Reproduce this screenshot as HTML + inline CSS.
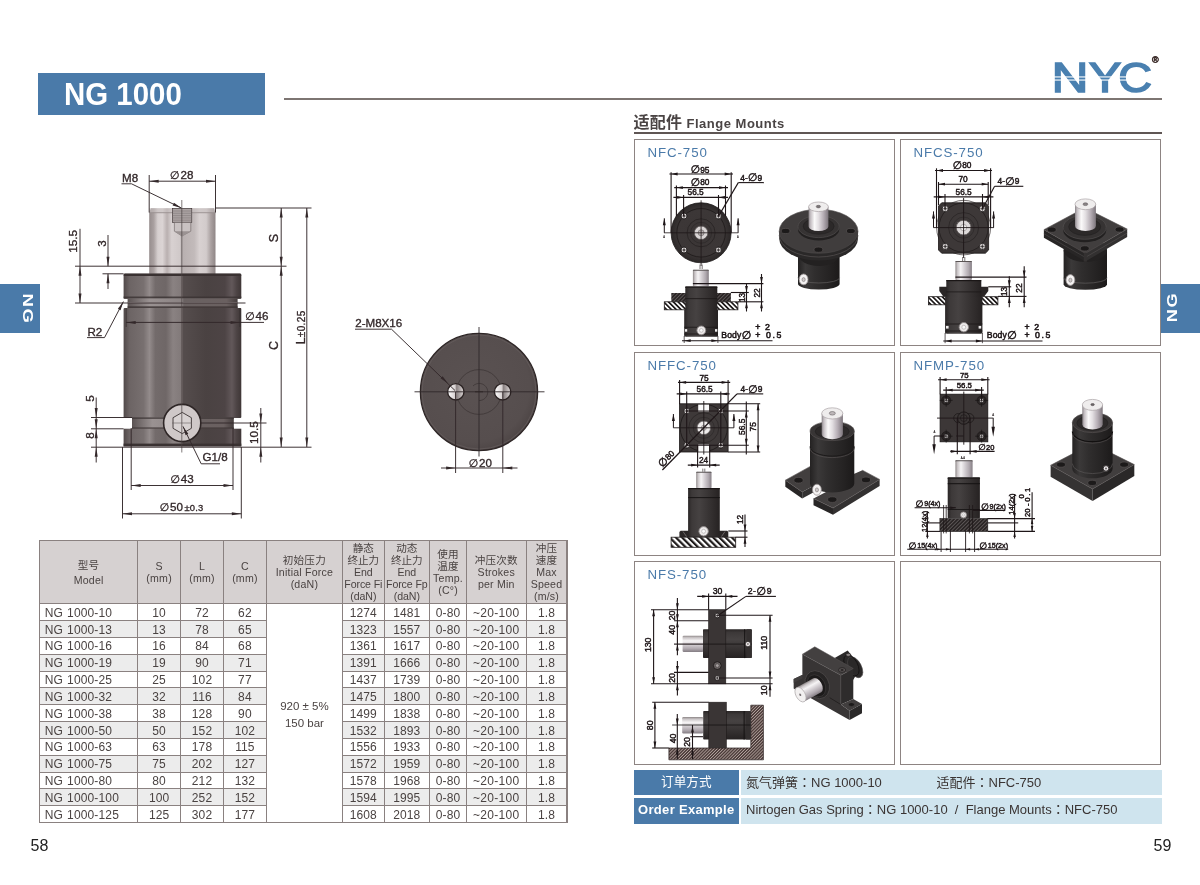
<!DOCTYPE html>
<html lang="zh-CN"><head><meta charset="utf-8"><title>NG 1000</title>
<style>
html,body{margin:0;padding:0;background:#fff;}
body{width:1200px;height:885px;position:relative;overflow:hidden;font-family:"Liberation Sans","Noto Sans CJK SC",sans-serif;}
#page{position:absolute;left:0;top:0;width:1200px;height:885px;overflow:hidden;will-change:transform;background:#fff;}
#art{position:absolute;left:0;top:0;width:1200px;height:885px;font-family:"Liberation Sans","Noto Sans CJK SC",sans-serif;}

.hbar{position:absolute;left:38px;top:73px;width:226.5px;height:41.5px;background:#4a7aa9;}
.hbar span{position:absolute;left:26px;top:1px;font-weight:bold;font-size:32px;line-height:40px;color:#fff;white-space:nowrap;transform-origin:0 50%;transform:scaleX(0.92);}
.hline{position:absolute;left:284px;top:98.3px;width:878px;height:2.2px;background:#7d7572;}
.tab{position:absolute;top:284px;height:48.7px;background:#4a7aa9;color:#fff;font-weight:bold;font-size:15px;}
.tabl{left:0;width:39.5px;}
.tabr{left:1161.3px;width:38.7px;}
.tab span{position:absolute;white-space:nowrap;letter-spacing:1.2px;line-height:1;font-size:14.6px;}
.tabl span{left:28.1px;top:25px;transform:translate(-50%,-50%) rotate(90deg) scaleX(1.27);}
.tabr span{left:11.2px;top:23.3px;transform:translate(-50%,-50%) rotate(-90deg) scaleX(1.25);}
.heading{position:absolute;left:633.5px;top:112.7px;white-space:nowrap;color:#4a4444;font-weight:bold;line-height:20px;}
.heading .cn{font-size:16px;letter-spacing:0.2px;}
.heading .en{font-size:13px;letter-spacing:0.5px;}
.hline2{position:absolute;left:633.5px;top:132px;width:528.5px;height:1.8px;background:#5f5654;}
.panel{position:absolute;box-sizing:border-box;border:1px solid #8d8482;background:#fff;}
.plabel{position:absolute;left:13px;top:5px;font-size:13.3px;line-height:16px;letter-spacing:0.9px;color:#4a7aa9;white-space:nowrap;}
.ob{position:absolute;height:25.3px;line-height:25px;font-size:13px;white-space:nowrap;}
.obk{left:633.5px;width:105.6px;background:#4a7aa9;color:#fff;text-align:center;font-size:12.6px;letter-spacing:0px;}
.obk.en{font-weight:bold;font-size:13px;letter-spacing:0.3px;}
.obv{left:740.5px;width:421px;background:#cfe4ee;color:#3a3433;}
.obv .c1{position:absolute;left:5.5px;}
.obv .c2{position:absolute;left:196px;}
.pn{position:absolute;top:836.8px;font-size:16px;line-height:18px;color:#222;}
.col{font-family:"Noto Sans CJK TC","Noto Sans CJK SC",sans-serif;line-height:0;}

.tbl{position:absolute;color:#4a4342;}
.tbl div{position:absolute;}
.thbg{background:#d6d1d1;}
.alt{background:#ececec;}
.gl{background:#8a8180;}
.th{top:0;display:flex;align-items:center;justify-content:center;text-align:center;font-size:10.6px;line-height:12.1px;letter-spacing:0.2px;white-space:nowrap;}
.th.n{letter-spacing:-0.1px;}
.th.m div{line-height:14.8px;position:relative;top:1px;}
.th div{position:static;}
.td{text-align:center;font-size:12px;line-height:18.43px;white-space:nowrap;letter-spacing:0.1px;}
.td.w{letter-spacing:0.3px;}
.td.first{text-align:left;padding-left:5.2px;box-sizing:border-box;letter-spacing:0.15px;word-spacing:0.6px;}
.merged{text-align:center;font-size:11.5px;line-height:16.8px;white-space:nowrap;}
</style></head><body><div id="page">
<div class="hbar"><span>NG 1000</span></div>
<div class="hline"></div>
<div class="tab tabl"><span>NG</span></div>
<div class="tab tabr"><span>NG</span></div>
<div class="heading"><span class="cn">适配件</span> <span class="en">Flange Mounts</span></div>
<div class="hline2"></div>
<div class="panel" style="left:633.5px;top:139.0px;width:261px;height:207px"><span class="plabel">NFC-750</span></div>
<div class="panel" style="left:899.5px;top:139.0px;width:261.5px;height:207px"><span class="plabel">NFCS-750</span></div>
<div class="panel" style="left:633.5px;top:351.5px;width:261px;height:204px"><span class="plabel">NFFC-750</span></div>
<div class="panel" style="left:899.5px;top:351.5px;width:261.5px;height:204px"><span class="plabel">NFMP-750</span></div>
<div class="panel" style="left:633.5px;top:561.0px;width:261px;height:204px"><span class="plabel">NFS-750</span></div>
<div class="panel" style="left:899.5px;top:561.0px;width:261.5px;height:204px"><span class="plabel"></span></div>
<div class="ob obk" style="top:770px">订单方式</div>
<div class="ob obv" style="top:770px"><span class="c1">氮气弹簧<span class="col" lang="zh-TW">：</span>NG 1000-10</span><span class="c2">适配件<span class="col" lang="zh-TW">：</span>NFC-750</span></div>
<div class="ob obk en" style="top:798px;height:25.8px;line-height:24.4px">Order Example</div>
<div class="ob obv" style="top:798px;height:25.8px;line-height:23.4px"><span class="c1">Nirtogen Gas Spring<span class="col" lang="zh-TW">：</span>NG 1000-10&nbsp; /&nbsp; Flange Mounts<span class="col" lang="zh-TW">：</span>NFC-750</span></div>
<div class="pn" style="left:30.5px">58</div>
<div class="pn" style="left:1153.5px">59</div>
<div class="tbl" style="left:39.5px;top:540.6px;width:527.5px;height:281.9899999999999px">
<div class="thbg" style="left:0;top:0;width:527.5px;height:63.19999999999993px"></div>
<div class="alt" style="left:0;top:80.03px;width:226.80px;height:16.83px"></div>
<div class="alt" style="left:303.00px;top:80.03px;width:224.50px;height:16.83px"></div>
<div class="alt" style="left:0;top:113.69px;width:226.80px;height:16.83px"></div>
<div class="alt" style="left:303.00px;top:113.69px;width:224.50px;height:16.83px"></div>
<div class="alt" style="left:0;top:147.35px;width:226.80px;height:16.83px"></div>
<div class="alt" style="left:303.00px;top:147.35px;width:224.50px;height:16.83px"></div>
<div class="alt" style="left:0;top:181.01px;width:226.80px;height:16.83px"></div>
<div class="alt" style="left:303.00px;top:181.01px;width:224.50px;height:16.83px"></div>
<div class="alt" style="left:0;top:214.67px;width:226.80px;height:16.83px"></div>
<div class="alt" style="left:303.00px;top:214.67px;width:224.50px;height:16.83px"></div>
<div class="alt" style="left:0;top:248.33px;width:226.80px;height:16.83px"></div>
<div class="alt" style="left:303.00px;top:248.33px;width:224.50px;height:16.83px"></div>
<div class="th m" style="left:0.00px;width:98.25px;height:63.19999999999993px"><div>型号<br>Model</div></div>
<div class="th" style="left:98.25px;width:42.75px;height:63.19999999999993px"><div>S<br>(mm)</div></div>
<div class="th" style="left:141.00px;width:43.00px;height:63.19999999999993px"><div>L<br>(mm)</div></div>
<div class="th" style="left:184.00px;width:42.80px;height:63.19999999999993px"><div>C<br>(mm)</div></div>
<div class="th" style="left:226.80px;width:76.20px;height:63.19999999999993px"><div>初始压力<br>Initial Force<br>(daN)</div></div>
<div class="th n" style="left:303.00px;width:41.70px;height:63.19999999999993px"><div>静态<br>终止力<br>End<br>Force Fi<br>(daN)</div></div>
<div class="th n" style="left:344.70px;width:45.30px;height:63.19999999999993px"><div>动态<br>终止力<br>End<br>Force Fp<br>(daN)</div></div>
<div class="th" style="left:390.00px;width:37.10px;height:63.19999999999993px"><div>使用<br>温度<br>Temp.<br>(C°)</div></div>
<div class="th" style="left:427.10px;width:59.40px;height:63.19999999999993px"><div>冲压次数<br>Strokes<br>per Min</div></div>
<div class="th" style="left:486.50px;width:41.00px;height:63.19999999999993px"><div>冲压<br>速度<br>Max<br>Speed<br>(m/s)</div></div>
<div class="td first" style="left:0.00px;top:63.20px;width:98.25px;height:16.83px">NG 1000-10</div>
<div class="td" style="left:98.25px;top:63.20px;width:42.75px;height:16.83px">10</div>
<div class="td" style="left:141.00px;top:63.20px;width:43.00px;height:16.83px">72</div>
<div class="td" style="left:184.00px;top:63.20px;width:42.80px;height:16.83px">62</div>
<div class="td" style="left:303.00px;top:63.20px;width:41.70px;height:16.83px">1274</div>
<div class="td" style="left:344.70px;top:63.20px;width:45.30px;height:16.83px">1481</div>
<div class="td" style="left:390.00px;top:63.20px;width:37.10px;height:16.83px">0-80</div>
<div class="td w" style="left:427.10px;top:63.20px;width:59.40px;height:16.83px">~20-100</div>
<div class="td" style="left:486.50px;top:63.20px;width:41.00px;height:16.83px">1.8</div>
<div class="td first" style="left:0.00px;top:80.03px;width:98.25px;height:16.83px">NG 1000-13</div>
<div class="td" style="left:98.25px;top:80.03px;width:42.75px;height:16.83px">13</div>
<div class="td" style="left:141.00px;top:80.03px;width:43.00px;height:16.83px">78</div>
<div class="td" style="left:184.00px;top:80.03px;width:42.80px;height:16.83px">65</div>
<div class="td" style="left:303.00px;top:80.03px;width:41.70px;height:16.83px">1323</div>
<div class="td" style="left:344.70px;top:80.03px;width:45.30px;height:16.83px">1557</div>
<div class="td" style="left:390.00px;top:80.03px;width:37.10px;height:16.83px">0-80</div>
<div class="td w" style="left:427.10px;top:80.03px;width:59.40px;height:16.83px">~20-100</div>
<div class="td" style="left:486.50px;top:80.03px;width:41.00px;height:16.83px">1.8</div>
<div class="td first" style="left:0.00px;top:96.86px;width:98.25px;height:16.83px">NG 1000-16</div>
<div class="td" style="left:98.25px;top:96.86px;width:42.75px;height:16.83px">16</div>
<div class="td" style="left:141.00px;top:96.86px;width:43.00px;height:16.83px">84</div>
<div class="td" style="left:184.00px;top:96.86px;width:42.80px;height:16.83px">68</div>
<div class="td" style="left:303.00px;top:96.86px;width:41.70px;height:16.83px">1361</div>
<div class="td" style="left:344.70px;top:96.86px;width:45.30px;height:16.83px">1617</div>
<div class="td" style="left:390.00px;top:96.86px;width:37.10px;height:16.83px">0-80</div>
<div class="td w" style="left:427.10px;top:96.86px;width:59.40px;height:16.83px">~20-100</div>
<div class="td" style="left:486.50px;top:96.86px;width:41.00px;height:16.83px">1.8</div>
<div class="td first" style="left:0.00px;top:113.69px;width:98.25px;height:16.83px">NG 1000-19</div>
<div class="td" style="left:98.25px;top:113.69px;width:42.75px;height:16.83px">19</div>
<div class="td" style="left:141.00px;top:113.69px;width:43.00px;height:16.83px">90</div>
<div class="td" style="left:184.00px;top:113.69px;width:42.80px;height:16.83px">71</div>
<div class="td" style="left:303.00px;top:113.69px;width:41.70px;height:16.83px">1391</div>
<div class="td" style="left:344.70px;top:113.69px;width:45.30px;height:16.83px">1666</div>
<div class="td" style="left:390.00px;top:113.69px;width:37.10px;height:16.83px">0-80</div>
<div class="td w" style="left:427.10px;top:113.69px;width:59.40px;height:16.83px">~20-100</div>
<div class="td" style="left:486.50px;top:113.69px;width:41.00px;height:16.83px">1.8</div>
<div class="td first" style="left:0.00px;top:130.52px;width:98.25px;height:16.83px">NG 1000-25</div>
<div class="td" style="left:98.25px;top:130.52px;width:42.75px;height:16.83px">25</div>
<div class="td" style="left:141.00px;top:130.52px;width:43.00px;height:16.83px">102</div>
<div class="td" style="left:184.00px;top:130.52px;width:42.80px;height:16.83px">77</div>
<div class="td" style="left:303.00px;top:130.52px;width:41.70px;height:16.83px">1437</div>
<div class="td" style="left:344.70px;top:130.52px;width:45.30px;height:16.83px">1739</div>
<div class="td" style="left:390.00px;top:130.52px;width:37.10px;height:16.83px">0-80</div>
<div class="td w" style="left:427.10px;top:130.52px;width:59.40px;height:16.83px">~20-100</div>
<div class="td" style="left:486.50px;top:130.52px;width:41.00px;height:16.83px">1.8</div>
<div class="td first" style="left:0.00px;top:147.35px;width:98.25px;height:16.83px">NG 1000-32</div>
<div class="td" style="left:98.25px;top:147.35px;width:42.75px;height:16.83px">32</div>
<div class="td" style="left:141.00px;top:147.35px;width:43.00px;height:16.83px">116</div>
<div class="td" style="left:184.00px;top:147.35px;width:42.80px;height:16.83px">84</div>
<div class="td" style="left:303.00px;top:147.35px;width:41.70px;height:16.83px">1475</div>
<div class="td" style="left:344.70px;top:147.35px;width:45.30px;height:16.83px">1800</div>
<div class="td" style="left:390.00px;top:147.35px;width:37.10px;height:16.83px">0-80</div>
<div class="td w" style="left:427.10px;top:147.35px;width:59.40px;height:16.83px">~20-100</div>
<div class="td" style="left:486.50px;top:147.35px;width:41.00px;height:16.83px">1.8</div>
<div class="td first" style="left:0.00px;top:164.18px;width:98.25px;height:16.83px">NG 1000-38</div>
<div class="td" style="left:98.25px;top:164.18px;width:42.75px;height:16.83px">38</div>
<div class="td" style="left:141.00px;top:164.18px;width:43.00px;height:16.83px">128</div>
<div class="td" style="left:184.00px;top:164.18px;width:42.80px;height:16.83px">90</div>
<div class="td" style="left:303.00px;top:164.18px;width:41.70px;height:16.83px">1499</div>
<div class="td" style="left:344.70px;top:164.18px;width:45.30px;height:16.83px">1838</div>
<div class="td" style="left:390.00px;top:164.18px;width:37.10px;height:16.83px">0-80</div>
<div class="td w" style="left:427.10px;top:164.18px;width:59.40px;height:16.83px">~20-100</div>
<div class="td" style="left:486.50px;top:164.18px;width:41.00px;height:16.83px">1.8</div>
<div class="td first" style="left:0.00px;top:181.01px;width:98.25px;height:16.83px">NG 1000-50</div>
<div class="td" style="left:98.25px;top:181.01px;width:42.75px;height:16.83px">50</div>
<div class="td" style="left:141.00px;top:181.01px;width:43.00px;height:16.83px">152</div>
<div class="td" style="left:184.00px;top:181.01px;width:42.80px;height:16.83px">102</div>
<div class="td" style="left:303.00px;top:181.01px;width:41.70px;height:16.83px">1532</div>
<div class="td" style="left:344.70px;top:181.01px;width:45.30px;height:16.83px">1893</div>
<div class="td" style="left:390.00px;top:181.01px;width:37.10px;height:16.83px">0-80</div>
<div class="td w" style="left:427.10px;top:181.01px;width:59.40px;height:16.83px">~20-100</div>
<div class="td" style="left:486.50px;top:181.01px;width:41.00px;height:16.83px">1.8</div>
<div class="td first" style="left:0.00px;top:197.84px;width:98.25px;height:16.83px">NG 1000-63</div>
<div class="td" style="left:98.25px;top:197.84px;width:42.75px;height:16.83px">63</div>
<div class="td" style="left:141.00px;top:197.84px;width:43.00px;height:16.83px">178</div>
<div class="td" style="left:184.00px;top:197.84px;width:42.80px;height:16.83px">115</div>
<div class="td" style="left:303.00px;top:197.84px;width:41.70px;height:16.83px">1556</div>
<div class="td" style="left:344.70px;top:197.84px;width:45.30px;height:16.83px">1933</div>
<div class="td" style="left:390.00px;top:197.84px;width:37.10px;height:16.83px">0-80</div>
<div class="td w" style="left:427.10px;top:197.84px;width:59.40px;height:16.83px">~20-100</div>
<div class="td" style="left:486.50px;top:197.84px;width:41.00px;height:16.83px">1.8</div>
<div class="td first" style="left:0.00px;top:214.67px;width:98.25px;height:16.83px">NG 1000-75</div>
<div class="td" style="left:98.25px;top:214.67px;width:42.75px;height:16.83px">75</div>
<div class="td" style="left:141.00px;top:214.67px;width:43.00px;height:16.83px">202</div>
<div class="td" style="left:184.00px;top:214.67px;width:42.80px;height:16.83px">127</div>
<div class="td" style="left:303.00px;top:214.67px;width:41.70px;height:16.83px">1572</div>
<div class="td" style="left:344.70px;top:214.67px;width:45.30px;height:16.83px">1959</div>
<div class="td" style="left:390.00px;top:214.67px;width:37.10px;height:16.83px">0-80</div>
<div class="td w" style="left:427.10px;top:214.67px;width:59.40px;height:16.83px">~20-100</div>
<div class="td" style="left:486.50px;top:214.67px;width:41.00px;height:16.83px">1.8</div>
<div class="td first" style="left:0.00px;top:231.50px;width:98.25px;height:16.83px">NG 1000-80</div>
<div class="td" style="left:98.25px;top:231.50px;width:42.75px;height:16.83px">80</div>
<div class="td" style="left:141.00px;top:231.50px;width:43.00px;height:16.83px">212</div>
<div class="td" style="left:184.00px;top:231.50px;width:42.80px;height:16.83px">132</div>
<div class="td" style="left:303.00px;top:231.50px;width:41.70px;height:16.83px">1578</div>
<div class="td" style="left:344.70px;top:231.50px;width:45.30px;height:16.83px">1968</div>
<div class="td" style="left:390.00px;top:231.50px;width:37.10px;height:16.83px">0-80</div>
<div class="td w" style="left:427.10px;top:231.50px;width:59.40px;height:16.83px">~20-100</div>
<div class="td" style="left:486.50px;top:231.50px;width:41.00px;height:16.83px">1.8</div>
<div class="td first" style="left:0.00px;top:248.33px;width:98.25px;height:16.83px">NG 1000-100</div>
<div class="td" style="left:98.25px;top:248.33px;width:42.75px;height:16.83px">100</div>
<div class="td" style="left:141.00px;top:248.33px;width:43.00px;height:16.83px">252</div>
<div class="td" style="left:184.00px;top:248.33px;width:42.80px;height:16.83px">152</div>
<div class="td" style="left:303.00px;top:248.33px;width:41.70px;height:16.83px">1594</div>
<div class="td" style="left:344.70px;top:248.33px;width:45.30px;height:16.83px">1995</div>
<div class="td" style="left:390.00px;top:248.33px;width:37.10px;height:16.83px">0-80</div>
<div class="td w" style="left:427.10px;top:248.33px;width:59.40px;height:16.83px">~20-100</div>
<div class="td" style="left:486.50px;top:248.33px;width:41.00px;height:16.83px">1.8</div>
<div class="td first" style="left:0.00px;top:265.16px;width:98.25px;height:16.83px">NG 1000-125</div>
<div class="td" style="left:98.25px;top:265.16px;width:42.75px;height:16.83px">125</div>
<div class="td" style="left:141.00px;top:265.16px;width:43.00px;height:16.83px">302</div>
<div class="td" style="left:184.00px;top:265.16px;width:42.80px;height:16.83px">177</div>
<div class="td" style="left:303.00px;top:265.16px;width:41.70px;height:16.83px">1608</div>
<div class="td" style="left:344.70px;top:265.16px;width:45.30px;height:16.83px">2018</div>
<div class="td" style="left:390.00px;top:265.16px;width:37.10px;height:16.83px">0-80</div>
<div class="td w" style="left:427.10px;top:265.16px;width:59.40px;height:16.83px">~20-100</div>
<div class="td" style="left:486.50px;top:265.16px;width:41.00px;height:16.83px">1.8</div>
<div class="merged" style="left:226.80px;top:157.35px;width:76.20px">920 ± 5%<br>150 bar</div>
<div class="gl" style="left:-0.70px;top:0;width:1.4px;height:281.9899999999999px"></div>
<div class="gl" style="left:97.75px;top:0;width:1px;height:281.9899999999999px"></div>
<div class="gl" style="left:140.50px;top:0;width:1px;height:281.9899999999999px"></div>
<div class="gl" style="left:183.50px;top:0;width:1px;height:281.9899999999999px"></div>
<div class="gl" style="left:226.30px;top:0;width:1px;height:281.9899999999999px"></div>
<div class="gl" style="left:302.50px;top:0;width:1px;height:281.9899999999999px"></div>
<div class="gl" style="left:344.20px;top:0;width:1px;height:281.9899999999999px"></div>
<div class="gl" style="left:389.50px;top:0;width:1px;height:281.9899999999999px"></div>
<div class="gl" style="left:426.60px;top:0;width:1px;height:281.9899999999999px"></div>
<div class="gl" style="left:486.00px;top:0;width:1px;height:281.9899999999999px"></div>
<div class="gl" style="left:526.80px;top:0;width:1.4px;height:281.9899999999999px"></div>
<div class="gl" style="left:-0.7px;top:-0.7px;width:528.9px;height:1.4px"></div>
<div class="gl" style="left:-0.7px;top:281.39px;width:528.9px;height:1.3px"></div>
<div class="gl" style="left:0;top:62.70px;width:527.5px;height:1px"></div>
<div class="gl" style="left:0;top:79.53px;width:226.80px;height:1px"></div>
<div class="gl" style="left:303.00px;top:79.53px;width:224.50px;height:1px"></div>
<div class="gl" style="left:0;top:96.36px;width:226.80px;height:1px"></div>
<div class="gl" style="left:303.00px;top:96.36px;width:224.50px;height:1px"></div>
<div class="gl" style="left:0;top:113.19px;width:226.80px;height:1px"></div>
<div class="gl" style="left:303.00px;top:113.19px;width:224.50px;height:1px"></div>
<div class="gl" style="left:0;top:130.02px;width:226.80px;height:1px"></div>
<div class="gl" style="left:303.00px;top:130.02px;width:224.50px;height:1px"></div>
<div class="gl" style="left:0;top:146.85px;width:226.80px;height:1px"></div>
<div class="gl" style="left:303.00px;top:146.85px;width:224.50px;height:1px"></div>
<div class="gl" style="left:0;top:163.68px;width:226.80px;height:1px"></div>
<div class="gl" style="left:303.00px;top:163.68px;width:224.50px;height:1px"></div>
<div class="gl" style="left:0;top:180.51px;width:226.80px;height:1px"></div>
<div class="gl" style="left:303.00px;top:180.51px;width:224.50px;height:1px"></div>
<div class="gl" style="left:0;top:197.34px;width:226.80px;height:1px"></div>
<div class="gl" style="left:303.00px;top:197.34px;width:224.50px;height:1px"></div>
<div class="gl" style="left:0;top:214.17px;width:226.80px;height:1px"></div>
<div class="gl" style="left:303.00px;top:214.17px;width:224.50px;height:1px"></div>
<div class="gl" style="left:0;top:231.00px;width:226.80px;height:1px"></div>
<div class="gl" style="left:303.00px;top:231.00px;width:224.50px;height:1px"></div>
<div class="gl" style="left:0;top:247.83px;width:226.80px;height:1px"></div>
<div class="gl" style="left:303.00px;top:247.83px;width:224.50px;height:1px"></div>
<div class="gl" style="left:0;top:264.66px;width:226.80px;height:1px"></div>
<div class="gl" style="left:303.00px;top:264.66px;width:224.50px;height:1px"></div>
</div>
<svg id="art" width="1200" height="885" viewBox="0 0 1200 885">
<text x="1051.4" y="91.9" font-size="42.6" textLength="37" lengthAdjust="spacingAndGlyphs" fill="#4a80b0" stroke="#4a80b0" stroke-width="1.5" stroke-linejoin="miter">N</text>
<text x="1088.8" y="91.9" font-size="42.6" textLength="32.6" lengthAdjust="spacingAndGlyphs" fill="#4a80b0" stroke="#4a80b0" stroke-width="1.5" stroke-linejoin="miter">Y</text>
<text x="1118.2" y="91.9" font-size="42.6" textLength="33.8" lengthAdjust="spacingAndGlyphs" fill="#4a80b0" stroke="#4a80b0" stroke-width="1.5" stroke-linejoin="miter">C</text>
<rect x="1050" y="76.4" width="104" height="1.1" fill="#fff" />
<rect x="1050" y="79.5" width="104" height="1.1" fill="#fff" />
<text x="1155.3" y="63" font-size="9" text-anchor="middle" font-weight="bold" fill="#3a2a28" stroke="#3a2a28" stroke-width="0.5">®</text>
<defs>
<linearGradient id="gRod" x1="0" x2="1" y1="0" y2="0">
<stop offset="0" stop-color="#968d8d"/><stop offset="0.07" stop-color="#aaa1a1"/><stop offset="0.13" stop-color="#d6cfcf"/><stop offset="0.2" stop-color="#dbd4d4"/>
<stop offset="0.27" stop-color="#b9b0b0"/><stop offset="0.34" stop-color="#d8d1d1"/><stop offset="0.46" stop-color="#d0c9c9"/>
<stop offset="0.50" stop-color="#b8b0b0"/><stop offset="0.68" stop-color="#c2baba"/><stop offset="0.76" stop-color="#d8d1d1"/><stop offset="0.86" stop-color="#d2cbcb"/>
<stop offset="0.93" stop-color="#aaa1a1"/><stop offset="1" stop-color="#8f8686"/></linearGradient>
<linearGradient id="gBody" x1="0" x2="1" y1="0" y2="0">
<stop offset="0" stop-color="#514949"/><stop offset="0.05" stop-color="#6c6464"/><stop offset="0.17" stop-color="#787070"/>
<stop offset="0.22" stop-color="#938b8b"/><stop offset="0.27" stop-color="#736b6b"/><stop offset="0.36" stop-color="#6f6767"/>
<stop offset="0.42" stop-color="#8a8282"/><stop offset="0.495" stop-color="#817979"/><stop offset="0.505" stop-color="#554d4d"/>
<stop offset="0.70" stop-color="#4a4242"/><stop offset="0.86" stop-color="#4d4445"/><stop offset="0.92" stop-color="#62585a"/>
<stop offset="0.96" stop-color="#4d4445"/><stop offset="1" stop-color="#3e3636"/></linearGradient>
<linearGradient id="gGroove" x1="0" x2="1" y1="0" y2="0">
<stop offset="0" stop-color="#5a5252"/><stop offset="0.2" stop-color="#9a9292"/><stop offset="0.5" stop-color="#8a8282"/>
<stop offset="0.51" stop-color="#6a6262"/><stop offset="0.9" stop-color="#6a6060"/><stop offset="1" stop-color="#453d3d"/></linearGradient>
<radialGradient id="gDisc" cx="0.45" cy="0.45" r="0.6">
<stop offset="0" stop-color="#5a5252"/><stop offset="0.8" stop-color="#564e4e"/><stop offset="1" stop-color="#4a4242"/></radialGradient>
<linearGradient id="gHole" x1="0" x2="1" y1="0" y2="0">
<stop offset="0" stop-color="#ffffff"/><stop offset="0.45" stop-color="#d8d2d2"/><stop offset="0.55" stop-color="#8a8282"/><stop offset="1" stop-color="#e0dada"/></linearGradient>
</defs>
<path d="M149.2 213 L150.8 208.2 L213.9 208.2 L215.5 213 L215.5 274 L149.2 274 Z" fill="url(#gRod)" />
<rect x="149.2" y="212.2" width="66.3" height="1" fill="#9a9191" />
<rect x="149.2" y="208.2" width="66.3" height="4" fill="#c9c1c1" opacity="0.55"/>
<rect x="172.4" y="208.4" width="19.4" height="14" fill="#aaa2a2" stroke="#33282a" stroke-width="0.6" />
<line x1="172.6" y1="211" x2="191.6" y2="211" stroke="#7a7272" stroke-width="0.5" />
<line x1="172.6" y1="213.3" x2="191.6" y2="213.3" stroke="#7a7272" stroke-width="0.5" />
<line x1="172.6" y1="215.6" x2="191.6" y2="215.6" stroke="#7a7272" stroke-width="0.5" />
<line x1="172.6" y1="217.9" x2="191.6" y2="217.9" stroke="#7a7272" stroke-width="0.5" />
<line x1="172.6" y1="220.2" x2="191.6" y2="220.2" stroke="#7a7272" stroke-width="0.5" />
<path d="M174.4 222.4 L174.4 231.2 L182 236 L190.8 231.2 L190.8 222.4 Z" fill="#c9c2c2" stroke="#6a6262" stroke-width="0.6" />
<path d="M174.4 231.2 L182 236 L190.8 231.2 Z" fill="#9a9292" />
<rect x="123.6" y="273.8" width="117.7" height="25" fill="url(#gBody)" rx="1.5" />
<rect x="123.6" y="273.6" width="117.7" height="2.4" fill="#3a3232" rx="1.2" />
<rect x="123.6" y="296.5" width="117.7" height="2.2" fill="#3a3232" opacity="0.8"/>
<rect x="127.6" y="298.5" width="110" height="10" fill="url(#gGroove)" />
<rect x="127.6" y="302" width="110" height="1.2" fill="#b0a8a8" opacity="0.7"/>
<rect x="127.6" y="306.3" width="110" height="2" fill="#3d3535" opacity="0.85"/>
<rect x="123.6" y="308" width="117.7" height="110" fill="url(#gBody)" rx="1" />
<rect x="132" y="417.5" width="101.8" height="11.5" fill="url(#gGroove)" />
<rect x="132" y="417.5" width="101.8" height="1.2" fill="#3d3535" />
<rect x="132" y="427.5" width="101.8" height="1.3" fill="#3d3535" />
<rect x="123.6" y="428.7" width="117.7" height="17.6" fill="url(#gBody)" />
<rect x="123.6" y="443.6" width="117.7" height="2.8" fill="#3a3232" />
<circle cx="182.2" cy="423" r="18.6" fill="#cfc8c8" stroke="#2e2626" stroke-width="1.6" />
<polygon points="182.2,412.4 191.38,417.7 191.38,428.3 182.2,433.6 173.02,428.3 173.02,417.7" fill="#d8d2d2" stroke="#3a3232" stroke-width="0.9" />
<line x1="172" y1="423" x2="192" y2="423" stroke="#6a6262" stroke-width="0.6" />
<line x1="181.8" y1="200" x2="181.8" y2="452.5" stroke="#4a4242" stroke-width="0.7" />
<line x1="149.2" y1="175" x2="149.2" y2="212.5" stroke="#33282a" stroke-width="0.95" />
<line x1="215.5" y1="175" x2="215.5" y2="212.5" stroke="#33282a" stroke-width="0.95" />
<line x1="149.2" y1="181.2" x2="215.5" y2="181.2" stroke="#33282a" stroke-width="0.95" /><polygon points="149.2,181.2 158.7,179.7 158.7,182.7" fill="#33282a" /><polygon points="215.5,181.2 206,182.7 206,179.7" fill="#33282a" />
<text x="181.6" y="178.6" font-size="11.6" text-anchor="middle" fill="#33282a" stroke="#33282a" stroke-width="0.33" ><tspan font-family="DejaVu Sans,sans-serif" font-size="0.95em">∅</tspan><tspan dx="1">28</tspan></text>
<text x="122" y="181.6" font-size="11.6" fill="#33282a" stroke="#33282a" stroke-width="0.33" >M8</text>
<line x1="121.5" y1="183.8" x2="131.5" y2="183.8" stroke="#33282a" stroke-width="0.95" />
<line x1="131.5" y1="183.8" x2="181.4" y2="208" stroke="#33282a" stroke-width="0.95" />
<polygon points="181.4,208 172.65,205.42 173.96,202.72" fill="#33282a" />
<line x1="215.5" y1="208" x2="311.5" y2="208" stroke="#33282a" stroke-width="0.95" />
<line x1="281.2" y1="208" x2="281.2" y2="266.2" stroke="#33282a" stroke-width="0.95" /><polygon points="281.2,208 282.7,217.5 279.7,217.5" fill="#33282a" /><polygon points="281.2,266.2 279.7,256.7 282.7,256.7" fill="#33282a" />
<text x="278" y="238" font-size="12.5" text-anchor="middle" transform="rotate(-90 278 238)" fill="#33282a" stroke="#33282a" stroke-width="0.33" >S</text>
<line x1="75" y1="266.2" x2="286.5" y2="266.2" stroke="#33282a" stroke-width="0.95" />
<line x1="281.2" y1="266.2" x2="281.2" y2="447" stroke="#33282a" stroke-width="0.95" /><polygon points="281.2,266.2 282.7,275.7 279.7,275.7" fill="#33282a" /><polygon points="281.2,447 279.7,437.5 282.7,437.5" fill="#33282a" />
<text x="278.2" y="345.5" font-size="12.5" text-anchor="middle" transform="rotate(-90 278.2 345.5)" fill="#33282a" stroke="#33282a" stroke-width="0.33" >C</text>
<line x1="306.8" y1="208" x2="306.8" y2="447" stroke="#33282a" stroke-width="0.95" /><polygon points="306.8,208 308.3,217.5 305.3,217.5" fill="#33282a" /><polygon points="306.8,447 305.3,437.5 308.3,437.5" fill="#33282a" />
<text transform="rotate(-90 305 344.2)" x="305" y="344.2" font-size="12.5" fill="#33282a" stroke="#33282a" stroke-width="0.33">L<tspan font-size="10" letter-spacing="0.4">±0.25</tspan></text>
<line x1="91" y1="447.2" x2="311.5" y2="447.2" stroke="#33282a" stroke-width="0.95" />
<line x1="80" y1="228.8" x2="80" y2="303" stroke="#33282a" stroke-width="0.95" />
<polygon points="80,266.2 81.5,275.7 78.5,275.7" fill="#33282a" />
<polygon points="80,303 78.5,293.5 81.5,293.5" fill="#33282a" />
<text x="77.4" y="241.4" font-size="11.6" text-anchor="middle" transform="rotate(-90 77.4 241.4)" fill="#33282a" stroke="#33282a" stroke-width="0.33" >15.5</text>
<line x1="75" y1="303" x2="245.5" y2="303" stroke="#33282a" stroke-width="0.95" />
<line x1="108" y1="235" x2="108" y2="266.2" stroke="#33282a" stroke-width="0.95" />
<line x1="108" y1="273.8" x2="108" y2="289" stroke="#33282a" stroke-width="0.95" />
<polygon points="108,266.2 106.5,256.7 109.5,256.7" fill="#33282a" />
<polygon points="108,273.8 109.5,283.3 106.5,283.3" fill="#33282a" />
<line x1="102.5" y1="273.8" x2="123.6" y2="273.8" stroke="#33282a" stroke-width="0.95" />
<text x="105.8" y="243.5" font-size="11.6" text-anchor="middle" transform="rotate(-90 105.8 243.5)" fill="#33282a" stroke="#33282a" stroke-width="0.33" >3</text>
<text x="87.5" y="336.2" font-size="11.6" fill="#33282a" stroke="#33282a" stroke-width="0.33" >R2</text>
<line x1="87" y1="337.6" x2="104.5" y2="337.6" stroke="#33282a" stroke-width="0.95" />
<line x1="104.5" y1="337.6" x2="123.4" y2="301.6" stroke="#33282a" stroke-width="0.95" />
<polygon points="123.4,301.6 120.54,310.27 117.89,308.87" fill="#33282a" />
<line x1="126.2" y1="322.4" x2="264" y2="322.4" stroke="#33282a" stroke-width="0.95" />
<polygon points="126.2,322.4 135.7,320.9 135.7,323.9" fill="#33282a" />
<polygon points="240,322.4 230.5,323.9 230.5,320.9" fill="#33282a" />
<text x="245" y="320.2" font-size="11.6" fill="#33282a" stroke="#33282a" stroke-width="0.33" ><tspan font-family="DejaVu Sans,sans-serif" font-size="0.95em">∅</tspan><tspan dx="1">46</tspan></text>
<line x1="126.2" y1="308" x2="126.2" y2="327" stroke="#2e2626" stroke-width="0.6" />
<line x1="240" y1="308" x2="240" y2="327" stroke="#2e2626" stroke-width="0.6" />
<line x1="96.2" y1="397.5" x2="96.2" y2="462.5" stroke="#33282a" stroke-width="0.95" />
<polygon points="96.2,417.5 94.7,408 97.7,408" fill="#33282a" />
<polygon points="96.2,428.8 97.7,438.3 94.7,438.3" fill="#33282a" />
<polygon points="96.2,428.8 94.7,419.3 97.7,419.3" fill="#33282a" />
<polygon points="96.2,447.2 97.7,456.7 94.7,456.7" fill="#33282a" />
<line x1="91" y1="417.5" x2="132" y2="417.5" stroke="#33282a" stroke-width="0.95" />
<line x1="91" y1="428.8" x2="123.6" y2="428.8" stroke="#33282a" stroke-width="0.95" />
<text x="94.2" y="398.6" font-size="11.6" text-anchor="middle" transform="rotate(-90 94.2 398.6)" fill="#33282a" stroke="#33282a" stroke-width="0.33" >5</text>
<text x="94" y="435.6" font-size="11.6" text-anchor="middle" transform="rotate(-90 94 435.6)" fill="#33282a" stroke="#33282a" stroke-width="0.33" >8</text>
<line x1="260.8" y1="408" x2="260.8" y2="462.5" stroke="#33282a" stroke-width="0.95" />
<polygon points="260.8,423 259.3,413.5 262.3,413.5" fill="#33282a" />
<polygon points="260.8,447.2 262.3,456.7 259.3,456.7" fill="#33282a" />
<line x1="200.5" y1="423" x2="266.5" y2="423" stroke="#33282a" stroke-width="0.95" />
<text x="258.3" y="432.6" font-size="11.6" text-anchor="middle" transform="rotate(-90 258.3 432.6)" fill="#33282a" stroke="#33282a" stroke-width="0.33" >10.5</text>
<text x="202.6" y="461.2" font-size="11.6" fill="#33282a" stroke="#33282a" stroke-width="0.33" >G1/8</text>
<line x1="201.2" y1="463.8" x2="220" y2="463.8" stroke="#33282a" stroke-width="0.95" />
<line x1="201.2" y1="463.8" x2="183" y2="426.4" stroke="#33282a" stroke-width="0.95" />
<polygon points="183,426.4 188.29,433.83 185.6,435.15" fill="#33282a" />
<line x1="131.2" y1="428" x2="131.2" y2="490" stroke="#33282a" stroke-width="0.95" />
<line x1="233" y1="428" x2="233" y2="490" stroke="#33282a" stroke-width="0.95" />
<line x1="131.2" y1="485.5" x2="233" y2="485.5" stroke="#33282a" stroke-width="0.95" /><polygon points="131.2,485.5 140.7,484 140.7,487" fill="#33282a" /><polygon points="233,485.5 223.5,487 223.5,484" fill="#33282a" />
<text x="182" y="483" font-size="11.6" text-anchor="middle" fill="#33282a" stroke="#33282a" stroke-width="0.33" ><tspan font-family="DejaVu Sans,sans-serif" font-size="0.95em">∅</tspan><tspan dx="1">43</tspan></text>
<line x1="122.5" y1="447" x2="122.5" y2="518.5" stroke="#33282a" stroke-width="0.95" />
<line x1="241.3" y1="447" x2="241.3" y2="518.5" stroke="#33282a" stroke-width="0.95" />
<line x1="122.5" y1="513.8" x2="241.3" y2="513.8" stroke="#33282a" stroke-width="0.95" /><polygon points="122.5,513.8 132,512.3 132,515.3" fill="#33282a" /><polygon points="241.3,513.8 231.8,515.3 231.8,512.3" fill="#33282a" />
<text x="159.5" y="511.2" font-size="11.6" fill="#33282a" stroke="#33282a" stroke-width="0.33"><tspan font-family="DejaVu Sans,sans-serif" font-size="0.95em">∅</tspan><tspan dx="1">50</tspan><tspan font-size="9.4" dx="1.4" letter-spacing="0.2">±0.3</tspan></text>
<circle cx="479" cy="392" r="58.6" fill="url(#gDisc)" stroke="#2e2626" stroke-width="1.3" />
<circle cx="479" cy="392" r="57" fill="none" stroke="#6a6262" stroke-width="0.6" />
<circle cx="479" cy="392" r="22.4" fill="none" stroke="#3a3232" stroke-width="0.7" />
<path d="M473 386 A8.6 8.6 0 1 1 479 400.6" fill="none" stroke="#3a3232" stroke-width="0.7" />
<circle cx="455.8" cy="391.8" r="8.2" fill="url(#gHole)" stroke="#2a2222" stroke-width="1.4" />
<circle cx="502.6" cy="391.8" r="8.2" fill="url(#gHole)" stroke="#2a2222" stroke-width="1.4" />
<line x1="414.5" y1="391.8" x2="544.5" y2="391.8" stroke="#30282a" stroke-width="0.9" />
<line x1="479" y1="327" x2="479" y2="456.5" stroke="#30282a" stroke-width="0.9" />
<line x1="475" y1="391.8" x2="483" y2="391.8" stroke="#2e2626" stroke-width="0.9" />
<text x="355.2" y="326.6" font-size="11.6" fill="#33282a" stroke="#33282a" stroke-width="0.33" >2-M8X16</text>
<line x1="355" y1="329.2" x2="391.5" y2="329.2" stroke="#33282a" stroke-width="0.95" />
<line x1="391.5" y1="329.2" x2="455" y2="390.5" stroke="#33282a" stroke-width="0.95" />
<polygon points="448,383.6 440.54,378.35 442.64,376.21" fill="#33282a" />
<line x1="455.6" y1="392" x2="455.6" y2="473" stroke="#33282a" stroke-width="0.95" />
<line x1="502.8" y1="392" x2="502.8" y2="473" stroke="#33282a" stroke-width="0.95" />
<line x1="441" y1="468" x2="517.5" y2="468" stroke="#33282a" stroke-width="0.95" />
<polygon points="455.6,468 446.1,469.5 446.1,466.5" fill="#33282a" />
<polygon points="502.8,468 512.3,466.5 512.3,469.5" fill="#33282a" />
<text x="480.2" y="467" font-size="11.6" text-anchor="middle" fill="#33282a" stroke="#33282a" stroke-width="0.33" ><tspan font-family="DejaVu Sans,sans-serif" font-size="0.95em">∅</tspan><tspan dx="1">20</tspan></text>
<defs>
<linearGradient id="pRod" x1="0" x2="1" y1="0" y2="0">
<stop offset="0" stop-color="#8e8888"/><stop offset="0.12" stop-color="#c9c4c6"/><stop offset="0.32" stop-color="#f6f4f5"/>
<stop offset="0.55" stop-color="#d4cfd3"/><stop offset="0.8" stop-color="#b0a9af"/><stop offset="1" stop-color="#857e84"/></linearGradient>
<linearGradient id="pRodV" x1="0" x2="0" y1="0" y2="1">
<stop offset="0" stop-color="#8e8888"/><stop offset="0.12" stop-color="#c9c4c6"/><stop offset="0.32" stop-color="#f6f4f5"/>
<stop offset="0.55" stop-color="#d4cfd3"/><stop offset="0.8" stop-color="#b0a9af"/><stop offset="1" stop-color="#857e84"/></linearGradient>
<linearGradient id="pBody" x1="0" x2="1" y1="0" y2="0">
<stop offset="0" stop-color="#2a2626"/><stop offset="0.12" stop-color="#3d3939"/><stop offset="0.35" stop-color="#464242"/>
<stop offset="0.6" stop-color="#3a3636"/><stop offset="1" stop-color="#262222"/></linearGradient>
<linearGradient id="pBodyV" x1="0" x2="0" y1="0" y2="1">
<stop offset="0" stop-color="#2a2626"/><stop offset="0.12" stop-color="#3d3939"/><stop offset="0.35" stop-color="#464242"/>
<stop offset="0.6" stop-color="#3a3636"/><stop offset="1" stop-color="#262222"/></linearGradient>
<linearGradient id="p3Body" x1="0" x2="1" y1="0" y2="0">
<stop offset="0" stop-color="#242222"/><stop offset="0.18" stop-color="#3b3939"/><stop offset="0.4" stop-color="#302e2e"/>
<stop offset="0.75" stop-color="#252323"/><stop offset="1" stop-color="#1c1a1a"/></linearGradient>
<linearGradient id="p3Rod" x1="0" x2="1" y1="0" y2="0">
<stop offset="0" stop-color="#8a8488"/><stop offset="0.1" stop-color="#c4bec2"/><stop offset="0.3" stop-color="#fbfafa"/>
<stop offset="0.5" stop-color="#e3dfe2"/><stop offset="0.75" stop-color="#b5adb4"/><stop offset="1" stop-color="#7d767c"/></linearGradient>
<radialGradient id="pDisc" cx="0.5" cy="0.5" r="0.5">
<stop offset="0" stop-color="#3a3535"/><stop offset="0.75" stop-color="#3c3737"/><stop offset="1" stop-color="#2c2828"/></radialGradient>
<pattern id="hatchL" width="3.4" height="3.4" patternUnits="userSpaceOnUse" patternTransform="rotate(-45)">
<rect width="3.4" height="3.4" fill="#fff"/><rect width="1.7" height="3.4" fill="#1e1a1a"/></pattern>
<pattern id="hatchL2" width="4.4" height="4.4" patternUnits="userSpaceOnUse" patternTransform="rotate(-45)">
<rect width="4.4" height="4.4" fill="#fff"/><rect width="2.2" height="4.4" fill="#1e1a1a"/></pattern>
<pattern id="hatchD" width="2.6" height="2.6" patternUnits="userSpaceOnUse" patternTransform="rotate(45)">
<rect width="2.6" height="2.6" fill="#2a2525"/><rect width="0.7" height="2.6" fill="#6a6464"/></pattern>
<pattern id="hatchW" width="2.2" height="2.2" patternUnits="userSpaceOnUse" patternTransform="rotate(45)">
<rect width="2.2" height="2.2" fill="#4a3a38"/><rect width="0.8" height="2.2" fill="#b5a5a0"/></pattern>
</defs>
<g><circle cx="701.1" cy="232.8" r="30" fill="url(#pDisc)" stroke="#1e1a1a" stroke-width="0.8" />
<circle cx="701.1" cy="232.8" r="24.3" fill="none" stroke="#1a1616" stroke-width="0.7" />
<circle cx="701.1" cy="232.8" r="14" fill="none" stroke="#242020" stroke-width="0.7" />
<circle cx="701.1" cy="232.8" r="10.5" fill="none" stroke="#2a2626" stroke-width="0.6" />
<circle cx="701.1" cy="232.8" r="6.8" fill="#d9d5d5" stroke="#5a5555" stroke-width="0.8" />
<circle cx="701.1" cy="232.8" r="3" fill="#b8b2b2" stroke="#6a6464" stroke-width="0.6" />
<circle cx="684" cy="216" r="3" fill="#e2dede" stroke="#151212" stroke-width="0.8" />
<circle cx="684" cy="216" r="1.2" fill="#7a7474" />
<line x1="681" y1="216" x2="687" y2="216" stroke="#151212" stroke-width="0.5" />
<line x1="684" y1="213" x2="684" y2="219" stroke="#151212" stroke-width="0.5" />
<circle cx="684" cy="250" r="3" fill="#e2dede" stroke="#151212" stroke-width="0.8" />
<circle cx="684" cy="250" r="1.2" fill="#7a7474" />
<line x1="681" y1="250" x2="687" y2="250" stroke="#151212" stroke-width="0.5" />
<line x1="684" y1="247" x2="684" y2="253" stroke="#151212" stroke-width="0.5" />
<circle cx="718.4" cy="216" r="3" fill="#e2dede" stroke="#151212" stroke-width="0.8" />
<circle cx="718.4" cy="216" r="1.2" fill="#7a7474" />
<line x1="715.4" y1="216" x2="721.4" y2="216" stroke="#151212" stroke-width="0.5" />
<line x1="718.4" y1="213" x2="718.4" y2="219" stroke="#151212" stroke-width="0.5" />
<circle cx="718.4" cy="250" r="3" fill="#e2dede" stroke="#151212" stroke-width="0.8" />
<circle cx="718.4" cy="250" r="1.2" fill="#7a7474" />
<line x1="715.4" y1="250" x2="721.4" y2="250" stroke="#151212" stroke-width="0.5" />
<line x1="718.4" y1="247" x2="718.4" y2="253" stroke="#151212" stroke-width="0.5" />
<line x1="664" y1="232.8" x2="738.3" y2="232.8" stroke="#1e1618" stroke-width="0.8" />
<line x1="701.1" y1="200.3" x2="701.1" y2="266" stroke="#1e1618" stroke-width="0.8" />
<line x1="664.3" y1="232.8" x2="664.3" y2="218.3" stroke="#1e1618" stroke-width="1" />
<polygon points="664.3,218.3 665.8,225.3 662.8,225.3" fill="#1e1618" />
<line x1="738.1" y1="232.8" x2="738.1" y2="218.3" stroke="#1e1618" stroke-width="1" />
<polygon points="738.1,218.3 739.6,225.3 736.6,225.3" fill="#1e1618" />
<text x="663.2" y="238.2" font-size="2.6" fill="#1e1618" stroke="#1e1618" stroke-width="0.1" >A</text>
<text x="737" y="238.2" font-size="2.6" fill="#1e1618" stroke="#1e1618" stroke-width="0.1" >A</text>
<line x1="671.1" y1="172.3" x2="671.1" y2="232.8" stroke="#1e1618" stroke-width="1.1" />
<line x1="731.2" y1="172.3" x2="731.2" y2="232.8" stroke="#1e1618" stroke-width="1.1" />
<line x1="669.4" y1="174" x2="733" y2="174" stroke="#1e1618" stroke-width="1.1" />
<polygon points="671.1,174 677.6,172.6 677.6,175.4" fill="#1e1618" />
<polygon points="731.2,174 724.7,175.4 724.7,172.6" fill="#1e1618" />
<text x="700" y="172.5" font-size="8.3" text-anchor="middle" fill="#1e1618" stroke="#1e1618" stroke-width="0.45" ><tspan font-family="DejaVu Sans,sans-serif" font-size="1.3em" dy="0.8">∅</tspan><tspan dy="-0.8" font-size="1"> </tspan>95</text>
<line x1="676.4" y1="185.5" x2="676.4" y2="216" stroke="#1e1618" stroke-width="1.1" />
<line x1="725.5" y1="185.5" x2="725.5" y2="216" stroke="#1e1618" stroke-width="1.1" />
<line x1="674.2" y1="187.6" x2="728" y2="187.6" stroke="#1e1618" stroke-width="1.1" />
<polygon points="676.4,187.6 682.9,186.2 682.9,189" fill="#1e1618" />
<polygon points="725.5,187.6 719,189 719,186.2" fill="#1e1618" />
<text x="700" y="185.3" font-size="8.3" text-anchor="middle" fill="#1e1618" stroke="#1e1618" stroke-width="0.45" ><tspan font-family="DejaVu Sans,sans-serif" font-size="1.3em" dy="0.8">∅</tspan><tspan dy="-0.8" font-size="1"> </tspan>80</text>
<line x1="683.6" y1="195" x2="683.6" y2="216" stroke="#1e1618" stroke-width="1.1" />
<line x1="718.5" y1="195" x2="718.5" y2="216" stroke="#1e1618" stroke-width="1.1" />
<line x1="673.4" y1="197.4" x2="728" y2="197.4" stroke="#1e1618" stroke-width="1.1" />
<polygon points="683.6,197.4 677.1,198.8 677.1,196" fill="#1e1618" />
<polygon points="718.5,197.4 725,196 725,198.8" fill="#1e1618" />
<text x="695.6" y="195.3" font-size="8.3" text-anchor="middle" fill="#1e1618" stroke="#1e1618" stroke-width="0.45" >56.5</text>
<text x="740.3" y="180.6" font-size="8.4" fill="#1e1618" stroke="#1e1618" stroke-width="0.45" >4-<tspan font-family="DejaVu Sans,sans-serif" font-size="1.3em" dy="0.8">∅</tspan><tspan dy="-0.8" font-size="1"> </tspan>9</text>
<line x1="738.3" y1="182.6" x2="763.8" y2="182.6" stroke="#1e1618" stroke-width="1.1" />
<line x1="738.3" y1="182.6" x2="718.4" y2="216.4" stroke="#1e1618" stroke-width="1.1" />
<line x1="700" y1="264.5" x2="700" y2="269" stroke="#1e1618" stroke-width="0.6" />
<line x1="702.2" y1="264.5" x2="702.2" y2="269" stroke="#1e1618" stroke-width="0.6" />
<rect x="692.9" y="269.8" width="15.9" height="16.8" fill="url(#pRod)" rx="1" />
<rect x="692.9" y="269.8" width="15.9" height="1" fill="#5a5454" rx="0.5" />
<rect x="671.3" y="293" width="59.6" height="8.8" fill="url(#hatchD)" />
<rect x="664.3" y="301.8" width="73.6" height="8" fill="url(#hatchL)" stroke="#1e1a1a" stroke-width="0.8" />
<rect x="685.3" y="286.5" width="32" height="50" fill="url(#pBody)" rx="0.8" />
<rect x="684.2" y="309.8" width="33.8" height="26.7" fill="url(#pBody)" />
<rect x="685.3" y="286.5" width="32" height="1.2" fill="#1a1616" />
<rect x="685.3" y="298.3" width="32" height="0.8" fill="#1c1818" />
<rect x="684.2" y="326.8" width="33.8" height="0.8" fill="#1c1818" />
<rect x="684.2" y="333.6" width="33.8" height="0.8" fill="#1c1818" />
<rect x="684.9" y="329.1" width="2.3" height="2.6" fill="#f0eeee" />
<rect x="715" y="329.1" width="2.3" height="2.6" fill="#f0eeee" />
<circle cx="701.3" cy="330.4" r="4.4" fill="#ece9e9" stroke="#8a8484" stroke-width="0.9" />
<circle cx="701.3" cy="330.4" r="1.85" fill="#f8f8f8" stroke="#9a9494" stroke-width="0.5" />
<line x1="692.9" y1="283.6" x2="763.4" y2="283.6" stroke="#1e1618" stroke-width="1.1" />
<line x1="730.8" y1="292.5" x2="748.8" y2="292.5" stroke="#1e1618" stroke-width="1.1" />
<line x1="738" y1="301.8" x2="763.4" y2="301.8" stroke="#1e1618" stroke-width="1.1" />
<line x1="746.5" y1="283" x2="746.5" y2="311.5" stroke="#1e1618" stroke-width="1.1" />
<polygon points="746.5,292.5 745.1,286 747.9,286" fill="#1e1618" />
<polygon points="746.5,301.8 747.9,308.3 745.1,308.3" fill="#1e1618" />
<line x1="761.5" y1="274" x2="761.5" y2="311.5" stroke="#1e1618" stroke-width="1.1" />
<polygon points="761.5,283.6 760.1,277.1 762.9,277.1" fill="#1e1618" />
<polygon points="761.5,301.8 762.9,308.3 760.1,308.3" fill="#1e1618" />
<text x="745.29" y="297.4" font-size="8.3" text-anchor="middle" transform="rotate(-90 745.29 297.4)" fill="#1e1618" stroke="#1e1618" stroke-width="0.45" >13</text>
<text x="759.89" y="293" font-size="8.3" text-anchor="middle" transform="rotate(-90 759.89 293)" fill="#1e1618" stroke="#1e1618" stroke-width="0.45" >22</text>
<text x="721.3" y="338.3" font-size="8.6" letter-spacing="0.15" fill="#1e1618" stroke="#1e1618" stroke-width="0.5" >Body<tspan font-family="DejaVu Sans,sans-serif" font-size="1.3em" dy="0.8">∅</tspan><tspan dy="-0.8" font-size="1"> </tspan></text>
<text x="755.3" y="329.9" font-size="8.8" letter-spacing="1.1" fill="#1e1618" stroke="#1e1618" stroke-width="0.55" >+ 2</text>
<text x="755.3" y="338.3" font-size="8.8" letter-spacing="1.55" fill="#1e1618" stroke="#1e1618" stroke-width="0.55" >+ 0.5</text>
<line x1="684.2" y1="336" x2="684.2" y2="343" stroke="#1e1618" stroke-width="0.7" />
<line x1="717.9" y1="336" x2="717.9" y2="343" stroke="#1e1618" stroke-width="0.7" />
<line x1="682" y1="340.7" x2="772.5" y2="340.7" stroke="#1e1618" stroke-width="1.1" />
<polygon points="684.2,340.7 690.7,339.3 690.7,342.1" fill="#1e1618" />
<polygon points="717.9,340.7 711.4,342.1 711.4,339.3" fill="#1e1618" />
<path d="M798 254 L798 284 A20.8 5.5 0 0 0 839.6 284 L839.6 254 Z" fill="url(#p3Body)" />
<ellipse cx="818.8" cy="254" rx="20.8" ry="12" fill="#232121" />
<path d="M798 277.5 A20.8 5.5 0 0 0 839.6 277.5" fill="none" stroke="#6a6666" stroke-width="0.6" />
<path d="M779.2 231.5 L779.2 238.6 A39.4 22 0 0 0 858 238.6 L858 231.5 Z" fill="#2a2828" />
<path d="M779.2 235 A39.4 22 0 0 0 858 235" fill="none" stroke="#565252" stroke-width="0.7" />
<ellipse cx="818.6" cy="231.3" rx="39.4" ry="22" fill="#403d3d" stroke="#4e4a4a" stroke-width="0.6" />
<ellipse cx="785.6" cy="231" rx="4.4" ry="2.6" fill="#1c1a1a" stroke="#5a5656" stroke-width="0.6" />
<ellipse cx="850.8" cy="231" rx="4.4" ry="2.6" fill="#1c1a1a" stroke="#5a5656" stroke-width="0.6" />
<ellipse cx="818.4" cy="249.7" rx="4.4" ry="2.6" fill="#1c1a1a" stroke="#5a5656" stroke-width="0.6" />
<path d="M798 226.6 L798 229.4 A20.6 11 0 0 0 839.2 229.4 L839.2 226.6 Z" fill="#222020" />
<ellipse cx="818.6" cy="226.6" rx="20.6" ry="11" fill="#363333" stroke="#565252" stroke-width="0.6" />
<ellipse cx="818.6" cy="226.2" rx="15.5" ry="8" fill="#2c2929" stroke="#222020" stroke-width="0.6" />
<path d="M808.6 206.8 L808.6 226.4 A9.9 4.6 0 0 0 828.4 226.4 L828.4 206.8 Z" fill="url(#p3Rod)" />
<ellipse cx="818.5" cy="206.8" rx="9.9" ry="4.8" fill="#efeded" stroke="#aaa4a6" stroke-width="0.7" />
<ellipse cx="818.4" cy="206.6" rx="2.2" ry="1.3" fill="#7a7476" stroke="#5a5456" stroke-width="0.5" />
<ellipse cx="803.6" cy="279.4" rx="4.4" ry="5.4" fill="#f4f2f2" stroke="#9a9494" stroke-width="0.8" />
<ellipse cx="803.6" cy="279.6" rx="1.6" ry="2" fill="#cfcaca" stroke="#6a6464" stroke-width="0.5" /></g>
<g><ellipse cx="963.6" cy="227.6" rx="27" ry="27.3" fill="#f4f2f2" stroke="#3a3434" stroke-width="0.7" />
<polygon points="941.7,202.8 985.4,202.8 988.6,206 988.6,250 985.4,253.2 941.7,253.2 938.5,250 938.5,206" fill="#3a3535" stroke="#1a1616" stroke-width="0.8" />
<circle cx="963.6" cy="227.6" r="24.6" fill="#3d3838" stroke="#1e1a1a" stroke-width="0.7" />
<circle cx="963.6" cy="227.6" r="15" fill="none" stroke="#262222" stroke-width="0.7" />
<circle cx="963.6" cy="227.6" r="10.5" fill="none" stroke="#2a2626" stroke-width="0.6" />
<circle cx="963.6" cy="227.6" r="7.4" fill="#dedada" stroke="#5a5555" stroke-width="0.8" />
<circle cx="963.6" cy="227.6" r="3.2" fill="#f4f2f2" stroke="#8a8484" stroke-width="0.6" />
<circle cx="945.2" cy="208.7" r="3.1" fill="#e2dede" stroke="#151212" stroke-width="0.8" />
<circle cx="945.2" cy="208.7" r="1.24" fill="#7a7474" />
<line x1="942.1" y1="208.7" x2="948.3" y2="208.7" stroke="#151212" stroke-width="0.5" />
<line x1="945.2" y1="205.6" x2="945.2" y2="211.8" stroke="#151212" stroke-width="0.5" />
<circle cx="945.2" cy="246.4" r="3.1" fill="#e2dede" stroke="#151212" stroke-width="0.8" />
<circle cx="945.2" cy="246.4" r="1.24" fill="#7a7474" />
<line x1="942.1" y1="246.4" x2="948.3" y2="246.4" stroke="#151212" stroke-width="0.5" />
<line x1="945.2" y1="243.3" x2="945.2" y2="249.5" stroke="#151212" stroke-width="0.5" />
<circle cx="982.4" cy="208.7" r="3.1" fill="#e2dede" stroke="#151212" stroke-width="0.8" />
<circle cx="982.4" cy="208.7" r="1.24" fill="#7a7474" />
<line x1="979.3" y1="208.7" x2="985.5" y2="208.7" stroke="#151212" stroke-width="0.5" />
<line x1="982.4" y1="205.6" x2="982.4" y2="211.8" stroke="#151212" stroke-width="0.5" />
<circle cx="982.4" cy="246.4" r="3.1" fill="#e2dede" stroke="#151212" stroke-width="0.8" />
<circle cx="982.4" cy="246.4" r="1.24" fill="#7a7474" />
<line x1="979.3" y1="246.4" x2="985.5" y2="246.4" stroke="#151212" stroke-width="0.5" />
<line x1="982.4" y1="243.3" x2="982.4" y2="249.5" stroke="#151212" stroke-width="0.5" />
<line x1="933.4" y1="227.6" x2="993.8" y2="227.6" stroke="#1e1618" stroke-width="0.9" />
<line x1="963.6" y1="197.9" x2="963.6" y2="258" stroke="#1e1618" stroke-width="0.9" />
<line x1="933.5" y1="227.6" x2="933.5" y2="211.4" stroke="#1e1618" stroke-width="1" />
<polygon points="933.5,211.4 935,218.4 932,218.4" fill="#1e1618" />
<line x1="993.6" y1="227.6" x2="993.6" y2="211.4" stroke="#1e1618" stroke-width="1" />
<polygon points="993.6,211.4 995.1,218.4 992.1,218.4" fill="#1e1618" />
<line x1="936.5" y1="168.3" x2="936.5" y2="228" stroke="#1e1618" stroke-width="1.1" />
<line x1="990.6" y1="168.3" x2="990.6" y2="228" stroke="#1e1618" stroke-width="1.1" />
<line x1="935" y1="170.5" x2="992" y2="170.5" stroke="#1e1618" stroke-width="1.1" />
<polygon points="936.5,170.5 943,169.1 943,171.9" fill="#1e1618" />
<polygon points="990.6,170.5 984.1,171.9 984.1,169.1" fill="#1e1618" />
<text x="962" y="168.2" font-size="8.3" text-anchor="middle" fill="#1e1618" stroke="#1e1618" stroke-width="0.45" ><tspan font-family="DejaVu Sans,sans-serif" font-size="1.3em" dy="0.8">∅</tspan><tspan dy="-0.8" font-size="1"> </tspan>80</text>
<line x1="938.5" y1="182" x2="938.5" y2="205" stroke="#1e1618" stroke-width="1.1" />
<line x1="988.2" y1="182" x2="988.2" y2="205" stroke="#1e1618" stroke-width="1.1" />
<line x1="938.5" y1="184.2" x2="988.2" y2="184.2" stroke="#1e1618" stroke-width="1.1" />
<polygon points="938.5,184.2 945,182.8 945,185.6" fill="#1e1618" />
<polygon points="988.2,184.2 981.7,185.6 981.7,182.8" fill="#1e1618" />
<text x="963" y="181.8" font-size="8.3" text-anchor="middle" fill="#1e1618" stroke="#1e1618" stroke-width="0.45" >70</text>
<line x1="945" y1="194" x2="945" y2="208.7" stroke="#1e1618" stroke-width="1.1" />
<line x1="982.5" y1="194" x2="982.5" y2="208.7" stroke="#1e1618" stroke-width="1.1" />
<line x1="933.7" y1="196.9" x2="993.4" y2="196.9" stroke="#1e1618" stroke-width="1.1" />
<polygon points="945,196.9 938.5,198.3 938.5,195.5" fill="#1e1618" />
<polygon points="982.5,196.9 989,195.5 989,198.3" fill="#1e1618" />
<text x="963.6" y="194.6" font-size="8.3" text-anchor="middle" fill="#1e1618" stroke="#1e1618" stroke-width="0.45" >56.5</text>
<text x="997.6" y="184.2" font-size="8.4" fill="#1e1618" stroke="#1e1618" stroke-width="0.45" >4-<tspan font-family="DejaVu Sans,sans-serif" font-size="1.3em" dy="0.8">∅</tspan><tspan dy="-0.8" font-size="1"> </tspan>9</text>
<line x1="994.6" y1="186.3" x2="1023.3" y2="186.3" stroke="#1e1618" stroke-width="1.1" />
<line x1="994.6" y1="186.3" x2="982.5" y2="208.7" stroke="#1e1618" stroke-width="1.1" />
<line x1="962.6" y1="257" x2="962.6" y2="261" stroke="#1e1618" stroke-width="0.6" />
<line x1="964.8" y1="257" x2="964.8" y2="261" stroke="#1e1618" stroke-width="0.6" />
<rect x="955.4" y="261.1" width="16.5" height="18.8" fill="url(#pRod)" rx="1" />
<rect x="955.4" y="261.1" width="16.5" height="1" fill="#5a5454" rx="0.5" />
<polygon points="939.3,286.8 988.3,286.8 988.3,291 984,296.7 943.5,296.7 939.3,291" fill="#2a2626" />
<rect x="928.4" y="296.7" width="69.5" height="8.1" fill="url(#hatchL)" stroke="#1e1a1a" stroke-width="0.8" />
<rect x="946.3" y="280" width="35" height="53.5" fill="url(#pBody)" rx="0.8" />
<rect x="945.1" y="296.7" width="37.3" height="36.8" fill="url(#pBody)" />
<rect x="946.3" y="280" width="35" height="1.2" fill="#1a1616" />
<rect x="946.3" y="291.5" width="35" height="0.8" fill="#1c1818" />
<rect x="945.1" y="323.6" width="37.3" height="0.8" fill="#1c1818" />
<rect x="945.1" y="330.6" width="37.3" height="0.8" fill="#1c1818" />
<rect x="946" y="325.9" width="2.6" height="2.7" fill="#f0eeee" />
<rect x="978.6" y="325.9" width="2.6" height="2.7" fill="#f0eeee" />
<circle cx="963.8" cy="327.2" r="4.7" fill="#ece9e9" stroke="#8a8484" stroke-width="0.9" />
<circle cx="963.8" cy="327.2" r="1.97" fill="#f8f8f8" stroke="#9a9494" stroke-width="0.5" />
<line x1="955.4" y1="277.1" x2="1026.5" y2="277.1" stroke="#1e1618" stroke-width="1.1" />
<line x1="988.3" y1="286.8" x2="1011.2" y2="286.8" stroke="#1e1618" stroke-width="1.1" />
<line x1="998" y1="296.4" x2="1026.5" y2="296.4" stroke="#1e1618" stroke-width="1.1" />
<line x1="1009.3" y1="276.2" x2="1009.3" y2="307.3" stroke="#1e1618" stroke-width="1.1" />
<polygon points="1009.3,286.8 1007.9,280.3 1010.7,280.3" fill="#1e1618" />
<polygon points="1009.3,296.4 1010.7,302.9 1007.9,302.9" fill="#1e1618" />
<line x1="1024.2" y1="266.3" x2="1024.2" y2="307.3" stroke="#1e1618" stroke-width="1.1" />
<polygon points="1024.2,277.1 1022.8,270.6 1025.6,270.6" fill="#1e1618" />
<polygon points="1024.2,296.4 1025.6,302.9 1022.8,302.9" fill="#1e1618" />
<text x="1007.29" y="291.5" font-size="8.3" text-anchor="middle" transform="rotate(-90 1007.29 291.5)" fill="#1e1618" stroke="#1e1618" stroke-width="0.45" >13</text>
<text x="1021.99" y="288" font-size="8.3" text-anchor="middle" transform="rotate(-90 1021.99 288)" fill="#1e1618" stroke="#1e1618" stroke-width="0.45" >22</text>
<text x="986.8" y="338.2" font-size="8.6" letter-spacing="0.15" fill="#1e1618" stroke="#1e1618" stroke-width="0.5" >Body<tspan font-family="DejaVu Sans,sans-serif" font-size="1.3em" dy="0.8">∅</tspan><tspan dy="-0.8" font-size="1"> </tspan></text>
<text x="1024.4" y="329.8" font-size="8.8" letter-spacing="1.1" fill="#1e1618" stroke="#1e1618" stroke-width="0.55" >+ 2</text>
<text x="1024.4" y="338.2" font-size="8.8" letter-spacing="1.55" fill="#1e1618" stroke="#1e1618" stroke-width="0.55" >+ 0.5</text>
<line x1="945.1" y1="333" x2="945.1" y2="343.2" stroke="#1e1618" stroke-width="0.7" />
<line x1="982.4" y1="333" x2="982.4" y2="343.2" stroke="#1e1618" stroke-width="0.7" />
<line x1="943.3" y1="341" x2="1042.5" y2="341" stroke="#1e1618" stroke-width="1.1" />
<polygon points="945.1,341 951.6,339.6 951.6,342.4" fill="#1e1618" />
<polygon points="982.4,341 975.9,342.4 975.9,339.6" fill="#1e1618" />
<path d="M1063.6 250 L1063.6 284.2 A21.7 5.6 0 0 0 1107 284.2 L1107 250 Z" fill="url(#p3Body)" />
<ellipse cx="1085.3" cy="250" rx="21.7" ry="12" fill="#232121" />
<path d="M1063.6 277.6 A21.7 5.6 0 0 0 1107 277.6" fill="none" stroke="#6a6666" stroke-width="0.6" />
<polygon points="1043.9,229.7 1085.3,253.4 1085.3,261.4 1043.9,237.7" fill="#282626" />
<polygon points="1085.3,253.4 1127.2,229.1 1127.2,237.1 1085.3,261.4" fill="#323030" />
<line x1="1043.9" y1="233.7" x2="1085.3" y2="257.4" stroke="#4e4a4a" stroke-width="0.6" />
<line x1="1085.3" y1="257.4" x2="1127.2" y2="233.1" stroke="#555151" stroke-width="0.6" />
<polygon points="1043.9,229.7 1084.8,207.8 1127.2,229.1 1085.3,253.4" fill="#413e3e" stroke="#555151" stroke-width="0.6" />
<rect x="1083.7" y="252.9" width="3.2" height="8.8" fill="#343131" />
<ellipse cx="1051.8" cy="229.7" rx="4.4" ry="2.6" fill="#1c1a1a" stroke="#5a5656" stroke-width="0.6" />
<ellipse cx="1119.5" cy="229.5" rx="4.4" ry="2.6" fill="#1c1a1a" stroke="#5a5656" stroke-width="0.6" />
<ellipse cx="1084.8" cy="248.4" rx="4.4" ry="2.6" fill="#1c1a1a" stroke="#5a5656" stroke-width="0.6" />
<path d="M1063.2 227.3 L1063.2 230.2 A21.5 12 0 0 0 1106.2 230.2 L1106.2 227.3 Z" fill="#222020" />
<ellipse cx="1084.7" cy="227.3" rx="21.5" ry="12" fill="#363333" stroke="#565252" stroke-width="0.6" />
<ellipse cx="1084.7" cy="226.8" rx="16" ry="8.6" fill="#2c2929" stroke="#222020" stroke-width="0.6" />
<path d="M1075 204.3 L1075 226 A10.4 5 0 0 0 1095.9 226 L1095.9 204.3 Z" fill="url(#p3Rod)" />
<ellipse cx="1085.4" cy="204.3" rx="10.4" ry="5.4" fill="#efeded" stroke="#aaa4a6" stroke-width="0.7" />
<ellipse cx="1085.4" cy="204.2" rx="2.4" ry="1.4" fill="#8a8486" stroke="#5a5456" stroke-width="0.5" />
<ellipse cx="1070.4" cy="280" rx="4.4" ry="5.4" fill="#f4f2f2" stroke="#9a9494" stroke-width="0.8" />
<ellipse cx="1070.4" cy="280.2" rx="1.6" ry="2" fill="#cfcaca" stroke="#6a6464" stroke-width="0.5" /></g>
<g><rect x="679.6" y="403.8" width="48.5" height="48.2" fill="#3c3737" stroke="#1a1616" stroke-width="0.8" />
<circle cx="703.8" cy="427.8" r="23.6" fill="#3e3939" stroke="#1c1818" stroke-width="0.8" />
<circle cx="703.8" cy="427.8" r="15" fill="none" stroke="#262222" stroke-width="0.7" />
<circle cx="703.8" cy="427.8" r="10.5" fill="none" stroke="#2a2626" stroke-width="0.6" />
<rect x="698.2" y="404.6" width="10.8" height="7" fill="#fbfbfb" />
<rect x="698.2" y="444.6" width="10.8" height="7" fill="#fbfbfb" />
<circle cx="703.8" cy="427.8" r="6.8" fill="#efecec" stroke="#6a6565" stroke-width="0.8" />
<circle cx="703.8" cy="427.8" r="2.6" fill="#cfcaca" stroke="#8a8484" stroke-width="0.6" />
<circle cx="686.7" cy="411" r="2.9" fill="#e2dede" stroke="#151212" stroke-width="0.8" />
<circle cx="686.7" cy="411" r="1.16" fill="#7a7474" />
<line x1="683.8" y1="411" x2="689.6" y2="411" stroke="#151212" stroke-width="0.5" />
<line x1="686.7" y1="408.1" x2="686.7" y2="413.9" stroke="#151212" stroke-width="0.5" />
<circle cx="686.7" cy="445.2" r="2.9" fill="#e2dede" stroke="#151212" stroke-width="0.8" />
<circle cx="686.7" cy="445.2" r="1.16" fill="#7a7474" />
<line x1="683.8" y1="445.2" x2="689.6" y2="445.2" stroke="#151212" stroke-width="0.5" />
<line x1="686.7" y1="442.3" x2="686.7" y2="448.1" stroke="#151212" stroke-width="0.5" />
<circle cx="720.8" cy="411" r="2.9" fill="#e2dede" stroke="#151212" stroke-width="0.8" />
<circle cx="720.8" cy="411" r="1.16" fill="#7a7474" />
<line x1="717.9" y1="411" x2="723.7" y2="411" stroke="#151212" stroke-width="0.5" />
<line x1="720.8" y1="408.1" x2="720.8" y2="413.9" stroke="#151212" stroke-width="0.5" />
<circle cx="720.8" cy="445.2" r="2.9" fill="#e2dede" stroke="#151212" stroke-width="0.8" />
<circle cx="720.8" cy="445.2" r="1.16" fill="#7a7474" />
<line x1="717.9" y1="445.2" x2="723.7" y2="445.2" stroke="#151212" stroke-width="0.5" />
<line x1="720.8" y1="442.3" x2="720.8" y2="448.1" stroke="#151212" stroke-width="0.5" />
<line x1="673.4" y1="427.8" x2="733.9" y2="427.8" stroke="#1e1618" stroke-width="0.9" />
<line x1="703.8" y1="401" x2="703.8" y2="454.5" stroke="#1e1618" stroke-width="0.9" />
<line x1="673.4" y1="427.8" x2="673.4" y2="414" stroke="#1e1618" stroke-width="1" />
<polygon points="673.4,414 674.9,421 671.9,421" fill="#1e1618" />
<line x1="733.9" y1="427.8" x2="733.9" y2="414" stroke="#1e1618" stroke-width="1" />
<polygon points="733.9,414 735.4,421 732.4,421" fill="#1e1618" />
<line x1="679.6" y1="380" x2="679.6" y2="404" stroke="#1e1618" stroke-width="1.1" />
<line x1="728.1" y1="380" x2="728.1" y2="404" stroke="#1e1618" stroke-width="1.1" />
<line x1="678" y1="382.4" x2="730.2" y2="382.4" stroke="#1e1618" stroke-width="1.1" />
<polygon points="679.6,382.4 686.1,381 686.1,383.8" fill="#1e1618" />
<polygon points="728.1,382.4 721.6,383.8 721.6,381" fill="#1e1618" />
<text x="704" y="380.6" font-size="8.3" text-anchor="middle" fill="#1e1618" stroke="#1e1618" stroke-width="0.45" >75</text>
<line x1="686.7" y1="391.6" x2="686.7" y2="445" stroke="#1e1618" stroke-width="1.1" />
<line x1="720.8" y1="391.6" x2="720.8" y2="445" stroke="#1e1618" stroke-width="1.1" />
<line x1="676.7" y1="393.9" x2="729.6" y2="393.9" stroke="#1e1618" stroke-width="1.1" />
<polygon points="686.7,393.9 680.2,395.3 680.2,392.5" fill="#1e1618" />
<polygon points="720.8,393.9 727.3,392.5 727.3,395.3" fill="#1e1618" />
<text x="704.6" y="392.1" font-size="8.3" text-anchor="middle" fill="#1e1618" stroke="#1e1618" stroke-width="0.45" >56.5</text>
<text x="740.6" y="391.8" font-size="8.4" fill="#1e1618" stroke="#1e1618" stroke-width="0.45" >4-<tspan font-family="DejaVu Sans,sans-serif" font-size="1.3em" dy="0.8">∅</tspan><tspan dy="-0.8" font-size="1"> </tspan>9</text>
<line x1="737" y1="393.9" x2="763.2" y2="393.9" stroke="#1e1618" stroke-width="1.1" />
<line x1="737" y1="393.9" x2="662.4" y2="470" stroke="#1e1618" stroke-width="1.3" />
<text x="661.6" y="467.4" font-size="8.3" transform="rotate(-45 661.6 467.4)" fill="#1e1618" stroke="#1e1618" stroke-width="0.45" ><tspan font-family="DejaVu Sans,sans-serif" font-size="1.3em" dy="0.8">∅</tspan><tspan dy="-0.8" font-size="1"> </tspan>80</text>
<line x1="728.1" y1="403.8" x2="760.2" y2="403.8" stroke="#1e1618" stroke-width="1.1" />
<line x1="728.1" y1="452" x2="760.2" y2="452" stroke="#1e1618" stroke-width="1.1" />
<line x1="686.7" y1="411" x2="748.8" y2="411" stroke="#1e1618" stroke-width="1.1" />
<line x1="686.7" y1="445.2" x2="748.8" y2="445.2" stroke="#1e1618" stroke-width="1.1" />
<line x1="746.3" y1="401.6" x2="746.3" y2="454.6" stroke="#1e1618" stroke-width="1.1" />
<polygon points="746.3,411 747.7,417.5 744.9,417.5" fill="#1e1618" />
<polygon points="746.3,445.2 744.9,438.7 747.7,438.7" fill="#1e1618" />
<line x1="758.1" y1="403.8" x2="758.1" y2="452" stroke="#1e1618" stroke-width="1.1" />
<polygon points="758.1,403.8 759.5,410.3 756.7,410.3" fill="#1e1618" />
<polygon points="758.1,452 756.7,445.5 759.5,445.5" fill="#1e1618" />
<text x="744.99" y="426.8" font-size="8.3" text-anchor="middle" transform="rotate(-90 744.99 426.8)" fill="#1e1618" stroke="#1e1618" stroke-width="0.45" >56.5</text>
<text x="756.49" y="426.8" font-size="8.3" text-anchor="middle" transform="rotate(-90 756.49 426.8)" fill="#1e1618" stroke="#1e1618" stroke-width="0.45" >75</text>
<line x1="697.6" y1="445" x2="697.6" y2="467.4" stroke="#1e1618" stroke-width="1.1" />
<line x1="709.7" y1="445" x2="709.7" y2="467.4" stroke="#1e1618" stroke-width="1.1" />
<line x1="687.8" y1="465.1" x2="719.7" y2="465.1" stroke="#1e1618" stroke-width="1.1" />
<polygon points="697.6,465.1 691.1,466.5 691.1,463.7" fill="#1e1618" />
<polygon points="709.7,465.1 716.2,463.7 716.2,466.5" fill="#1e1618" />
<text x="703.5" y="463" font-size="8.3" text-anchor="middle" fill="#1e1618" stroke="#1e1618" stroke-width="0.45" >24</text>
<line x1="702.8" y1="468.6" x2="702.8" y2="472" stroke="#1e1618" stroke-width="0.6" />
<line x1="704.8" y1="468.6" x2="704.8" y2="472" stroke="#1e1618" stroke-width="0.6" />
<rect x="696.2" y="471.8" width="15.3" height="16.4" fill="url(#pRod)" rx="1" />
<rect x="696.2" y="471.8" width="15.3" height="1" fill="#5a5454" rx="0.5" />
<polygon points="680.6,530.8 727.2,530.8 728.3,532 728.3,537 679.4,537 679.4,532" fill="#2a2626" />
<rect x="671.1" y="537.2" width="64.6" height="10.1" fill="url(#hatchL2)" stroke="#1e1a1a" stroke-width="0.8" />
<rect x="688.1" y="488" width="31.7" height="48.4" fill="url(#pBody)" rx="0.8" />
<rect x="688.1" y="488" width="31.7" height="1.2" fill="#1a1616" />
<rect x="688.1" y="497.2" width="31.7" height="0.9" fill="#151212" />
<line x1="683" y1="531.5" x2="686.5" y2="536.5" stroke="#7a7474" stroke-width="0.8" />
<line x1="721.5" y1="536.5" x2="725" y2="531.5" stroke="#7a7474" stroke-width="0.8" />
<circle cx="703.6" cy="531.3" r="4.7" fill="#ece9e9" stroke="#8a8484" stroke-width="0.9" />
<circle cx="703.6" cy="531.3" r="1.97" fill="#f8f8f8" stroke="#9a9494" stroke-width="0.5" />
<line x1="728.3" y1="531" x2="747.5" y2="531" stroke="#1e1618" stroke-width="1.1" />
<line x1="735.7" y1="537.2" x2="747.5" y2="537.2" stroke="#1e1618" stroke-width="1.1" />
<line x1="745" y1="514.6" x2="745" y2="547" stroke="#1e1618" stroke-width="1.1" />
<polygon points="745,531 743.6,524.5 746.4,524.5" fill="#1e1618" />
<polygon points="745,537.2 746.4,543.7 743.6,543.7" fill="#1e1618" />
<text x="743.49" y="519.4" font-size="8.3" text-anchor="middle" transform="rotate(-90 743.49 519.4)" fill="#1e1618" stroke="#1e1618" stroke-width="0.45" >12</text>
<polygon points="785.3,480.2 802.2,491.9 802.2,498.5 785.3,486.8" fill="#282626" />
<polygon points="813.5,498.6 833,508.1 833,514.7 813.5,505.2" fill="#282626" />
<polygon points="833,508.1 879.6,479.4 879.6,486 833,514.7" fill="#333131" />
<polygon points="802.2,491.9 816,484.5 816,491.1 802.2,498.5" fill="#333131" />
<polygon points="785.3,480.2 812,465.4 828,476 816,484.5 802.2,491.9" fill="#423f3f" />
<polygon points="813.5,498.6 826,492 840,480 862.4,470.2 879.6,479.4 833,508.1" fill="#423f3f" />
<path d="M785.3 480.2 L812 465.4" fill="none" stroke="#5a5656" stroke-width="0.6" />
<path d="M862.4 470.2 L879.6 479.4 L833 508.1 L813.5 498.6" fill="none" stroke="#5a5656" stroke-width="0.6" />
<path d="M785.3 480.2 L802.2 491.9" fill="none" stroke="#5a5656" stroke-width="0.6" />
<ellipse cx="798.5" cy="480.2" rx="4.6" ry="2.8" fill="#1c1a1a" stroke="#5a5656" stroke-width="0.6" />
<ellipse cx="866" cy="479.9" rx="4.6" ry="2.8" fill="#1c1a1a" stroke="#5a5656" stroke-width="0.6" />
<ellipse cx="832.3" cy="499.6" rx="4.6" ry="2.8" fill="#1c1a1a" stroke="#5a5656" stroke-width="0.6" />
<path d="M810 431 L810 483.5 A22.15 9 0 0 0 854.3 483.5 L854.3 431 Z" fill="url(#p3Body)" />
<ellipse cx="832.15" cy="431" rx="22.15" ry="9.6" fill="#383535" stroke="#5a5656" stroke-width="0.6" />
<path d="M810 446.5 A22.15 9.6 0 0 0 854.3 446.5" fill="none" stroke="#1c1a1a" stroke-width="1" />
<path d="M810 448 A22.15 9.6 0 0 0 854.3 448" fill="none" stroke="#5a5656" stroke-width="0.6" />
<ellipse cx="832.2" cy="431.4" rx="17" ry="7" fill="#2c2929" stroke="#222020" stroke-width="0.6" />
<path d="M821.7 413.4 L821.7 434.2 A10.6 5 0 0 0 842.9 434.2 L842.9 413.4 Z" fill="url(#p3Rod)" />
<ellipse cx="832.3" cy="413.4" rx="10.6" ry="5.6" fill="#efeded" stroke="#aaa4a6" stroke-width="0.7" />
<ellipse cx="832.3" cy="413.3" rx="3" ry="1.8" fill="#bcb6b8" stroke="#6a6466" stroke-width="0.6" />
<ellipse cx="816.9" cy="489.7" rx="4.4" ry="5.5" fill="#f4f2f2" stroke="#9a9494" stroke-width="0.8" />
<ellipse cx="816.9" cy="489.9" rx="1.6" ry="2" fill="#cfcaca" stroke="#6a6464" stroke-width="0.5" /></g>
<g><rect x="940.1" y="394.2" width="47.7" height="47.6" fill="#3c3737" stroke="#1a1616" stroke-width="0.8" />
<circle cx="946.2" cy="400.4" r="4.6" fill="#2a2525" stroke="#1a1616" stroke-width="0.6" />
<circle cx="946.2" cy="400.4" r="2.3" fill="#d8d4d4" stroke="#151212" stroke-width="0.7" />
<line x1="939.7" y1="400.4" x2="952.7" y2="400.4" stroke="#151212" stroke-width="0.6" />
<line x1="946.2" y1="393.9" x2="946.2" y2="406.9" stroke="#151212" stroke-width="0.6" />
<circle cx="946.2" cy="436.2" r="4.6" fill="#2a2525" stroke="#1a1616" stroke-width="0.6" />
<circle cx="946.2" cy="436.2" r="2.3" fill="#d8d4d4" stroke="#151212" stroke-width="0.7" />
<line x1="939.7" y1="436.2" x2="952.7" y2="436.2" stroke="#151212" stroke-width="0.6" />
<line x1="946.2" y1="429.7" x2="946.2" y2="442.7" stroke="#151212" stroke-width="0.6" />
<circle cx="981.6" cy="400.4" r="4.6" fill="#2a2525" stroke="#1a1616" stroke-width="0.6" />
<circle cx="981.6" cy="400.4" r="2.3" fill="#d8d4d4" stroke="#151212" stroke-width="0.7" />
<line x1="975.1" y1="400.4" x2="988.1" y2="400.4" stroke="#151212" stroke-width="0.6" />
<line x1="981.6" y1="393.9" x2="981.6" y2="406.9" stroke="#151212" stroke-width="0.6" />
<circle cx="981.6" cy="436.2" r="4.6" fill="#2a2525" stroke="#1a1616" stroke-width="0.6" />
<circle cx="981.6" cy="436.2" r="2.3" fill="#d8d4d4" stroke="#151212" stroke-width="0.7" />
<line x1="975.1" y1="436.2" x2="988.1" y2="436.2" stroke="#151212" stroke-width="0.6" />
<line x1="981.6" y1="429.7" x2="981.6" y2="442.7" stroke="#151212" stroke-width="0.6" />
<circle cx="958.3" cy="418.1" r="4.6" fill="none" stroke="#1a1616" stroke-width="0.7" />
<circle cx="969.3" cy="418.1" r="4.6" fill="none" stroke="#1a1616" stroke-width="0.7" />
<circle cx="963.8" cy="418.1" r="6.2" fill="#3a3535" stroke="#151212" stroke-width="0.8" />
<circle cx="963.8" cy="418.1" r="3.4" fill="none" stroke="#1a1616" stroke-width="0.6" />
<line x1="937" y1="418.1" x2="993.4" y2="418.1" stroke="#1e1618" stroke-width="0.9" />
<line x1="963.8" y1="391.6" x2="963.8" y2="444.7" stroke="#1e1618" stroke-width="0.9" />
<line x1="993.2" y1="418.1" x2="993.2" y2="430" stroke="#1e1618" stroke-width="1" />
<polygon points="993.2,436.8 991.5,426.8 994.9,426.8" fill="#1e1618" />
<line x1="934.1" y1="436" x2="946" y2="436" stroke="#1e1618" stroke-width="1" />
<line x1="934.1" y1="436" x2="934.1" y2="446" stroke="#1e1618" stroke-width="1" />
<polygon points="934.1,454.3 932.4,444.3 935.8,444.3" fill="#1e1618" />
<line x1="956.2" y1="436" x2="963.5" y2="436" stroke="#1e1618" stroke-width="0.9" />
<text x="992.2" y="415.6" font-size="2.8" fill="#1e1618" stroke="#1e1618" stroke-width="0.1" >A</text>
<text x="933.4" y="433.4" font-size="2.8" fill="#1e1618" stroke="#1e1618" stroke-width="0.1" >A</text>
<line x1="940.1" y1="376.9" x2="940.1" y2="394.2" stroke="#1e1618" stroke-width="1.1" />
<line x1="987.8" y1="376.9" x2="987.8" y2="394.2" stroke="#1e1618" stroke-width="1.1" />
<line x1="938" y1="379.7" x2="989.6" y2="379.7" stroke="#1e1618" stroke-width="1.1" />
<polygon points="940.1,379.7 946.6,378.3 946.6,381.1" fill="#1e1618" />
<polygon points="987.8,379.7 981.3,381.1 981.3,378.3" fill="#1e1618" />
<text x="964.3" y="378.3" font-size="7.8" text-anchor="middle" fill="#1e1618" stroke="#1e1618" stroke-width="0.45" >75</text>
<line x1="946.2" y1="387" x2="946.2" y2="400.4" stroke="#1e1618" stroke-width="1.1" />
<line x1="981.6" y1="387" x2="981.6" y2="400.4" stroke="#1e1618" stroke-width="1.1" />
<line x1="943.2" y1="390.1" x2="983.8" y2="390.1" stroke="#1e1618" stroke-width="1.1" />
<polygon points="946.2,390.1 952.7,388.7 952.7,391.5" fill="#1e1618" />
<polygon points="981.6,390.1 975.1,391.5 975.1,388.7" fill="#1e1618" />
<text x="964.3" y="388.3" font-size="7.8" text-anchor="middle" fill="#1e1618" stroke="#1e1618" stroke-width="0.45" >56.5</text>
<line x1="957.3" y1="418" x2="957.3" y2="454.3" stroke="#1e1618" stroke-width="1.1" />
<line x1="970.1" y1="418" x2="970.1" y2="454.3" stroke="#1e1618" stroke-width="1.1" />
<line x1="950.3" y1="451.4" x2="994.6" y2="451.4" stroke="#1e1618" stroke-width="1.1" />
<polygon points="957.3,451.4 950.8,452.8 950.8,450" fill="#1e1618" />
<polygon points="970.1,451.4 976.6,450 976.6,452.8" fill="#1e1618" />
<text x="978.6" y="449.8" font-size="7.5" fill="#1e1618" stroke="#1e1618" stroke-width="0.45" ><tspan font-family="DejaVu Sans,sans-serif" font-size="1.15em" dy="0.5">∅</tspan><tspan dy="-0.5">20</tspan></text>
<text x="962.8" y="458.6" font-size="2.6" text-anchor="middle" fill="#1e1618" stroke="#1e1618" stroke-width="0.1" >A-A</text>
<rect x="955.4" y="460.2" width="17.2" height="17.2" fill="url(#pRod)" rx="1" />
<rect x="955.4" y="460.2" width="17.2" height="1" fill="#5a5454" rx="0.5" />
<rect x="939.9" y="518.6" width="47.9" height="12.9" fill="url(#hatchD)" stroke="#1a1616" stroke-width="0.6" />
<rect x="947.7" y="477.4" width="32.2" height="40.8" fill="url(#pBody)" rx="0.8" />
<rect x="947.7" y="477.4" width="32.2" height="1.2" fill="#1a1616" />
<rect x="947.7" y="483.2" width="32.2" height="1" fill="#151212" />
<rect x="947.7" y="509.2" width="32.2" height="0.8" fill="#151212" />
<circle cx="963.5" cy="514.9" r="3" fill="#ece9e9" stroke="#8a8484" stroke-width="0.8" />
<circle cx="963.5" cy="514.9" r="1.1" fill="#f8f8f8" stroke="#9a9494" stroke-width="0.4" />
<text x="915.8" y="505.8" font-size="7.15" fill="#1e1618" stroke="#1e1618" stroke-width="0.45" ><tspan font-family="DejaVu Sans,sans-serif" font-size="1.3em" dy="0.8">∅</tspan><tspan dy="-0.8" font-size="1"> </tspan>9(4x)</text>
<line x1="914.6" y1="507.7" x2="955.8" y2="507.7" stroke="#1e1618" stroke-width="1.1" />
<polygon points="955.8,507.7 950.3,508.9 950.3,506.5" fill="#1e1618" />
<text x="981.2" y="508.7" font-size="7.15" fill="#1e1618" stroke="#1e1618" stroke-width="0.45" ><tspan font-family="DejaVu Sans,sans-serif" font-size="1.3em" dy="0.8">∅</tspan><tspan dy="-0.8" font-size="1"> </tspan>9(2x)</text>
<line x1="973.2" y1="510.4" x2="1005.3" y2="510.4" stroke="#1e1618" stroke-width="1.1" />
<text x="908.8" y="547.7" font-size="7.15" fill="#1e1618" stroke="#1e1618" stroke-width="0.45" ><tspan font-family="DejaVu Sans,sans-serif" font-size="1.3em" dy="0.8">∅</tspan><tspan dy="-0.8" font-size="1"> </tspan>15(4x)</text>
<line x1="907.2" y1="549.3" x2="941.1" y2="549.3" stroke="#1e1618" stroke-width="1.1" />
<text x="979.4" y="547.7" font-size="7.15" fill="#1e1618" stroke="#1e1618" stroke-width="0.45" ><tspan font-family="DejaVu Sans,sans-serif" font-size="1.3em" dy="0.8">∅</tspan><tspan dy="-0.8" font-size="1"> </tspan>15(2x)</text>
<line x1="974.3" y1="549.3" x2="1008.2" y2="549.3" stroke="#1e1618" stroke-width="1.1" />
<line x1="941.1" y1="549.3" x2="974.6" y2="549.3" stroke="#1e1618" stroke-width="1.1" />
<polygon points="950.4,549.3 945.9,550.4 945.9,548.2" fill="#1e1618" />
<polygon points="965.6,549.3 970.1,548.2 970.1,550.4" fill="#1e1618" />
<polygon points="941.1,549.3 936.6,550.4 936.6,548.2" fill="#1e1618" />
<polygon points="974.6,549.3 979.1,548.2 979.1,550.4" fill="#1e1618" />
<line x1="941.1" y1="531" x2="941.1" y2="552" stroke="#1e1618" stroke-width="0.9" />
<line x1="950.4" y1="531" x2="950.4" y2="552" stroke="#1e1618" stroke-width="0.9" />
<line x1="965.6" y1="531" x2="965.6" y2="552" stroke="#1e1618" stroke-width="0.9" />
<line x1="974.6" y1="531" x2="974.6" y2="552" stroke="#1e1618" stroke-width="0.9" />
<line x1="943.6" y1="505" x2="943.6" y2="533.4" stroke="#1e1618" stroke-width="0.8" />
<line x1="946.2" y1="505" x2="946.2" y2="533.4" stroke="#1e1618" stroke-width="0.8" />
<line x1="969.4" y1="505" x2="969.4" y2="533.4" stroke="#1e1618" stroke-width="0.8" />
<line x1="972.6" y1="505" x2="972.6" y2="533.4" stroke="#1e1618" stroke-width="0.8" />
<line x1="925.3" y1="522.9" x2="940" y2="522.9" stroke="#1e1618" stroke-width="1.1" />
<line x1="925.3" y1="531.4" x2="940" y2="531.4" stroke="#1e1618" stroke-width="1.1" />
<line x1="927.4" y1="511.6" x2="927.4" y2="538.4" stroke="#1e1618" stroke-width="1.1" />
<polygon points="927.4,522.9 926.2,517.4 928.6,517.4" fill="#1e1618" />
<polygon points="927.4,531.4 928.6,536.9 926.2,536.9" fill="#1e1618" />
<text x="927.3" y="521.4" font-size="7.5" text-anchor="middle" transform="rotate(-90 927.3 521.4)" fill="#1e1618" stroke="#1e1618" stroke-width="0.45" >12(4x)</text>
<line x1="987.8" y1="518.6" x2="1035" y2="518.6" stroke="#1e1618" stroke-width="1.1" />
<line x1="987.8" y1="522.9" x2="1018.2" y2="522.9" stroke="#1e1618" stroke-width="1.1" />
<line x1="987.8" y1="531.4" x2="1035" y2="531.4" stroke="#1e1618" stroke-width="1.1" />
<line x1="1014.6" y1="494" x2="1014.6" y2="538.4" stroke="#1e1618" stroke-width="1.1" />
<polygon points="1014.6,518.6 1013.4,513.1 1015.8,513.1" fill="#1e1618" />
<polygon points="1014.6,531.4 1015.8,536.9 1013.4,536.9" fill="#1e1618" />
<text x="1013.7" y="504" font-size="7.5" text-anchor="middle" transform="rotate(-90 1013.7 504)" fill="#1e1618" stroke="#1e1618" stroke-width="0.45" >14(2x)</text>
<line x1="1032.1" y1="492.3" x2="1032.1" y2="532" stroke="#1e1618" stroke-width="1.1" />
<polygon points="1032.1,518.6 1033.3,524.1 1030.9,524.1" fill="#1e1618" />
<polygon points="1032.1,531.4 1030.9,525.9 1033.3,525.9" fill="#1e1618" />
<text x="1030.2" y="517" font-size="7.6" transform="rotate(-90 1030.2 517)" fill="#1e1618" stroke="#1e1618" stroke-width="0.45" >20</text>
<text x="1030.2" y="506" font-size="7.6" letter-spacing="1.7" transform="rotate(-90 1030.2 506)" fill="#1e1618" stroke="#1e1618" stroke-width="0.45" >-0.1</text>
<text x="1023.6" y="498.6" font-size="7.6" transform="rotate(-90 1023.6 498.6)" fill="#1e1618" stroke="#1e1618" stroke-width="0.45" >0</text>
<polygon points="1050.6,465.3 1092.6,489 1092.6,501 1050.6,476.7" fill="#353333" />
<polygon points="1092.6,489 1134.3,464.6 1134.3,476 1092.6,501" fill="#2a2828" />
<polygon points="1050.6,465.3 1092.2,443.6 1134.3,464.6 1092.6,489" fill="#413e3e" stroke="#555151" stroke-width="0.6" />
<ellipse cx="1061" cy="464.6" rx="4.4" ry="2.6" fill="#1c1a1a" stroke="#5a5656" stroke-width="0.6" />
<ellipse cx="1124.1" cy="464.6" rx="4.4" ry="2.6" fill="#1c1a1a" stroke="#5a5656" stroke-width="0.6" />
<ellipse cx="1092.2" cy="482.9" rx="4.4" ry="2.6" fill="#1c1a1a" stroke="#5a5656" stroke-width="0.6" />
<path d="M1072.3 422.6 L1072.3 468.6 A20.15 9.6 0 0 0 1112.6 468.6 L1112.6 422.6 Z" fill="url(#p3Body)" />
<ellipse cx="1092.45" cy="422.6" rx="20.15" ry="10" fill="#383535" stroke="#5a5656" stroke-width="0.6" />
<path d="M1072.3 431.6 A20.15 10 0 0 0 1112.6 431.6" fill="none" stroke="#121010" stroke-width="1.1" />
<path d="M1072.3 433.2 A20.15 10 0 0 0 1112.6 433.2" fill="none" stroke="#555151" stroke-width="0.6" />
<path d="M1072.3 463.6 A20.15 10 0 0 0 1112.6 463.6" fill="none" stroke="#5e5a5a" stroke-width="0.6" />
<ellipse cx="1092.4" cy="423" rx="15.6" ry="7.4" fill="#2c2929" stroke="#222020" stroke-width="0.6" />
<path d="M1082.3 404.9 L1082.3 424.4 A10.2 5 0 0 0 1102.7 424.4 L1102.7 404.9 Z" fill="url(#p3Rod)" />
<ellipse cx="1092.5" cy="404.9" rx="10.2" ry="5.5" fill="#efeded" stroke="#aaa4a6" stroke-width="0.7" />
<ellipse cx="1092.6" cy="404.6" rx="1.8" ry="1.1" fill="#6a6466" stroke="#4a4446" stroke-width="0.5" />
<circle cx="1106" cy="468.4" r="2.8" fill="#e8e4e6" stroke="#2a2626" stroke-width="0.9" />
<circle cx="1106" cy="468.4" r="1" fill="#6a6464" /></g>
<g><rect x="682.6" y="635.7" width="20.6" height="16.2" fill="url(#pRodV)" rx="1.2" />
<rect x="703" y="629.2" width="48.8" height="28.9" fill="url(#pBodyV)" rx="0.8" />
<rect x="744.2" y="629.2" width="1" height="28.9" fill="#151212" />
<rect x="746.3" y="629.2" width="5.5" height="28.9" fill="#332f2f" rx="1" />
<rect x="708.6" y="609.7" width="17.2" height="74.1" fill="#3a3535" stroke="#1e1a1a" stroke-width="0.6" />
<line x1="703" y1="644.1" x2="751.5" y2="644.1" stroke="#151212" stroke-width="0.8" />
<circle cx="717.3" cy="615.5" r="2.4" fill="#e2dede" stroke="#151212" stroke-width="0.8" />
<circle cx="717.3" cy="615.5" r="0.96" fill="#7a7474" />
<line x1="714.9" y1="615.5" x2="719.7" y2="615.5" stroke="#151212" stroke-width="0.5" />
<line x1="717.3" y1="613.1" x2="717.3" y2="617.9" stroke="#151212" stroke-width="0.5" />
<circle cx="717.3" cy="678" r="2.4" fill="#e2dede" stroke="#151212" stroke-width="0.8" />
<circle cx="717.3" cy="678" r="0.96" fill="#7a7474" />
<line x1="714.9" y1="678" x2="719.7" y2="678" stroke="#151212" stroke-width="0.5" />
<line x1="717.3" y1="675.6" x2="717.3" y2="680.4" stroke="#151212" stroke-width="0.5" />
<circle cx="717.3" cy="665.6" r="3.9" fill="#6a6464" stroke="#151212" stroke-width="0.8" />
<circle cx="717.3" cy="665.6" r="1.8" fill="#a8a2a2" stroke="#3a3434" stroke-width="0.5" />
<circle cx="747.9" cy="644.1" r="2.7" fill="#e8e4e4" stroke="#2a2626" stroke-width="0.8" />
<circle cx="747.9" cy="644.1" r="1" fill="#8a8484" />
<line x1="708.6" y1="593.4" x2="708.6" y2="609.7" stroke="#1e1618" stroke-width="1.1" />
<line x1="725.8" y1="593.4" x2="725.8" y2="609.7" stroke="#1e1618" stroke-width="1.1" />
<line x1="697.2" y1="596.4" x2="737.5" y2="596.4" stroke="#1e1618" stroke-width="1.1" />
<polygon points="708.6,596.4 702.1,597.8 702.1,595" fill="#1e1618" />
<polygon points="725.8,596.4 732.3,595 732.3,597.8" fill="#1e1618" />
<text x="717.6" y="594.1" font-size="8.7" text-anchor="middle" fill="#1e1618" stroke="#1e1618" stroke-width="0.45" >30</text>
<text x="747.8" y="594.1" font-size="8.7" letter-spacing="0.3" fill="#1e1618" stroke="#1e1618" stroke-width="0.45" >2-<tspan font-family="DejaVu Sans,sans-serif" font-size="1.3em" dy="0.8">∅</tspan><tspan dy="-0.8" font-size="1"> </tspan>9</text>
<line x1="745.9" y1="596.4" x2="775.9" y2="596.4" stroke="#1e1618" stroke-width="1.1" />
<line x1="745.9" y1="596.4" x2="718" y2="615.5" stroke="#1e1618" stroke-width="1.1" />
<line x1="651" y1="609.7" x2="708.6" y2="609.7" stroke="#1e1618" stroke-width="1.1" />
<line x1="651" y1="683.8" x2="772.6" y2="683.8" stroke="#1e1618" stroke-width="1.1" />
<line x1="653.6" y1="609.7" x2="653.6" y2="683.8" stroke="#1e1618" stroke-width="1.1" />
<polygon points="653.6,609.7 655,616.2 652.2,616.2" fill="#1e1618" />
<polygon points="653.6,683.8 652.2,677.3 655,677.3" fill="#1e1618" />
<text x="651.43" y="644.8" font-size="8.7" text-anchor="middle" transform="rotate(-90 651.43 644.8)" fill="#1e1618" stroke="#1e1618" stroke-width="0.45" >130</text>
<line x1="674" y1="620.8" x2="708.6" y2="620.8" stroke="#1e1618" stroke-width="1.1" />
<line x1="674" y1="644.1" x2="703" y2="644.1" stroke="#1e1618" stroke-width="1.1" />
<line x1="674" y1="672.4" x2="708.6" y2="672.4" stroke="#1e1618" stroke-width="1.1" />
<line x1="677.4" y1="598" x2="677.4" y2="655.2" stroke="#1e1618" stroke-width="1.1" />
<line x1="677.4" y1="661" x2="677.4" y2="695.5" stroke="#1e1618" stroke-width="1.1" />
<polygon points="677.4,609.7 676,603.2 678.8,603.2" fill="#1e1618" />
<polygon points="677.4,620.8 678.8,627.3 676,627.3" fill="#1e1618" />
<polygon points="677.4,620.8 676,614.3 678.8,614.3" fill="#1e1618" />
<polygon points="677.4,644.1 678.8,650.6 676,650.6" fill="#1e1618" />
<polygon points="677.4,672.4 676,665.9 678.8,665.9" fill="#1e1618" />
<polygon points="677.4,683.8 678.8,690.3 676,690.3" fill="#1e1618" />
<text x="674.93" y="615.4" font-size="8.7" text-anchor="middle" transform="rotate(-90 674.93 615.4)" fill="#1e1618" stroke="#1e1618" stroke-width="0.45" >20</text>
<text x="674.93" y="629.8" font-size="8.7" text-anchor="middle" transform="rotate(-90 674.93 629.8)" fill="#1e1618" stroke="#1e1618" stroke-width="0.45" >40</text>
<text x="674.93" y="678" font-size="8.7" text-anchor="middle" transform="rotate(-90 674.93 678)" fill="#1e1618" stroke="#1e1618" stroke-width="0.45" >20</text>
<line x1="719.3" y1="615.2" x2="772.6" y2="615.2" stroke="#1e1618" stroke-width="1.1" />
<line x1="719.3" y1="678" x2="772.6" y2="678" stroke="#1e1618" stroke-width="1.1" />
<line x1="770" y1="615.2" x2="770" y2="696.8" stroke="#1e1618" stroke-width="1.1" />
<polygon points="770,615.2 771.4,621.7 768.6,621.7" fill="#1e1618" />
<polygon points="770,678 768.6,671.5 771.4,671.5" fill="#1e1618" />
<polygon points="770,683.8 771.4,690.3 768.6,690.3" fill="#1e1618" />
<text x="767.33" y="642.8" font-size="8.7" text-anchor="middle" transform="rotate(-90 767.33 642.8)" fill="#1e1618" stroke="#1e1618" stroke-width="0.45" >110</text>
<text x="767.33" y="690.3" font-size="8.7" text-anchor="middle" transform="rotate(-90 767.33 690.3)" fill="#1e1618" stroke="#1e1618" stroke-width="0.45" >10</text>
<path d="M750.8 705.2 H763.4 V759.8 H668.9 V748 H750.8 Z" fill="url(#hatchW)" stroke="#2a2020" stroke-width="0.7" />
<rect x="682.2" y="717.1" width="21" height="16.3" fill="url(#pRodV)" rx="1.2" />
<rect x="703.2" y="711" width="47.6" height="28.6" fill="url(#pBodyV)" rx="0.8" />
<rect x="743.6" y="711" width="1" height="28.6" fill="#151212" />
<rect x="745.6" y="711" width="5.2" height="28.6" fill="#332f2f" rx="1" />
<rect x="708.8" y="702.2" width="17.5" height="45.6" fill="#3a3535" stroke="#1e1a1a" stroke-width="0.6" />
<line x1="672.1" y1="725" x2="750.5" y2="725" stroke="#151212" stroke-width="0.8" />
<line x1="652.2" y1="702.2" x2="708.8" y2="702.2" stroke="#1e1618" stroke-width="1.1" />
<line x1="652.2" y1="748" x2="668.9" y2="748" stroke="#1e1618" stroke-width="1.1" />
<line x1="654.9" y1="702.2" x2="654.9" y2="748" stroke="#1e1618" stroke-width="1.1" />
<polygon points="654.9,702.2 656.3,708.7 653.5,708.7" fill="#1e1618" />
<polygon points="654.9,748 653.5,741.5 656.3,741.5" fill="#1e1618" />
<text x="652.73" y="725.3" font-size="8.7" text-anchor="middle" transform="rotate(-90 652.73 725.3)" fill="#1e1618" stroke="#1e1618" stroke-width="0.45" >80</text>
<line x1="677.3" y1="713.9" x2="677.3" y2="759" stroke="#1e1618" stroke-width="1.1" />
<polygon points="677.3,725 675.9,718.5 678.7,718.5" fill="#1e1618" />
<polygon points="677.3,748 678.7,754.5 675.9,754.5" fill="#1e1618" />
<text x="675.83" y="738.4" font-size="8.7" text-anchor="middle" transform="rotate(-90 675.83 738.4)" fill="#1e1618" stroke="#1e1618" stroke-width="0.45" >40</text>
<line x1="690.2" y1="736.7" x2="703" y2="736.7" stroke="#1e1618" stroke-width="1.1" />
<line x1="692.5" y1="725" x2="692.5" y2="759" stroke="#1e1618" stroke-width="1.1" />
<polygon points="692.5,726 693.9,732.5 691.1,732.5" fill="#1e1618" />
<polygon points="692.5,748 693.9,754.5 691.1,754.5" fill="#1e1618" />
<text x="689.83" y="741.9" font-size="8.7" text-anchor="middle" transform="rotate(-90 689.83 741.9)" fill="#1e1618" stroke="#1e1618" stroke-width="0.45" >20</text>
<path d="M834.66 657.95 L847.7 650.5 L860.75 667.27 L853.29 679.69 Z" fill="#2b2929" />
<ellipse cx="855.16" cy="667.27" rx="6.2" ry="11.4" transform="rotate(-28 855.16 667.27)" fill="#2a2828" stroke="#4a4646" stroke-width="0.6"/>
<ellipse cx="851.43" cy="665.4" rx="6.2" ry="11.4" transform="rotate(-28 851.43 665.4)" fill="none" stroke="#121010" stroke-width="0.8"/>
<ellipse cx="848.32" cy="654.84" rx="2.4" ry="1.6" fill="#8a8484" stroke="#1c1a1a" stroke-width="0.6" />
<polygon points="802.36,654.22 840.87,675.34 840.87,704.53 849.57,710.75 849.57,720.06 793.66,688.39 793.66,679.07 802.36,674.97" fill="#383535" />
<polygon points="793.66,679.07 802.36,674.72 802.36,678.45 793.66,682.8" fill="#413e3e" />
<polygon points="840.87,675.34 853.29,668.51 853.29,698.94 840.87,704.53" fill="#2e2c2c" />
<polygon points="840.87,704.53 853.29,698.94 861.99,703.91 849.57,710.75" fill="#413e3e" />
<polygon points="849.57,710.75 861.99,703.91 861.99,713.23 849.57,720.06" fill="#2a2828" />
<polygon points="802.36,654.22 814.78,646.77 853.29,668.51 840.87,675.34" fill="#434040" stroke="#5a5656" stroke-width="0.5" />
<line x1="840.87" y1="675.34" x2="840.87" y2="704.53" stroke="#4e4a4a" stroke-width="0.6" />
<line x1="829.69" y1="697.7" x2="840.87" y2="704.53" stroke="#151313" stroke-width="0.6" />
<ellipse cx="842.11" cy="670" rx="3.6" ry="2.3" fill="#5a5555" stroke="#1c1a1a" stroke-width="0.7" />
<ellipse cx="842.11" cy="670" rx="1.6" ry="1" fill="#2a2626" />
<ellipse cx="851.43" cy="704.53" rx="3" ry="1.9" fill="#1c1a1a" stroke="#4a4646" stroke-width="0.5" />
<ellipse cx="817.27" cy="684.66" rx="11.6" ry="14.6" transform="rotate(-28 817.27 684.66)" fill="#262424" stroke="#4e4a4a" stroke-width="0.7"/>
<ellipse cx="816.07" cy="685.26" rx="8.6" ry="11.6" transform="rotate(-28 817.27 684.66)" fill="#1c1a1a" stroke="#3e3a3a" stroke-width="0.6"/>
<g transform="translate(800.5 694.6) rotate(-29.05)"><path d="M0 -8 L19.18 -8 A4.5 8 0 0 1 19.18 8 L0 8 Z" fill="url(#pRodV)"/><ellipse cx="0" cy="0" rx="4.6" ry="8" fill="#f2f0f0" stroke="#b0aaac" stroke-width="0.7"/><ellipse cx="-0.3" cy="0" rx="0.9" ry="1.4" fill="#7a7476"/></g></g>
</svg>
</div></body></html>
